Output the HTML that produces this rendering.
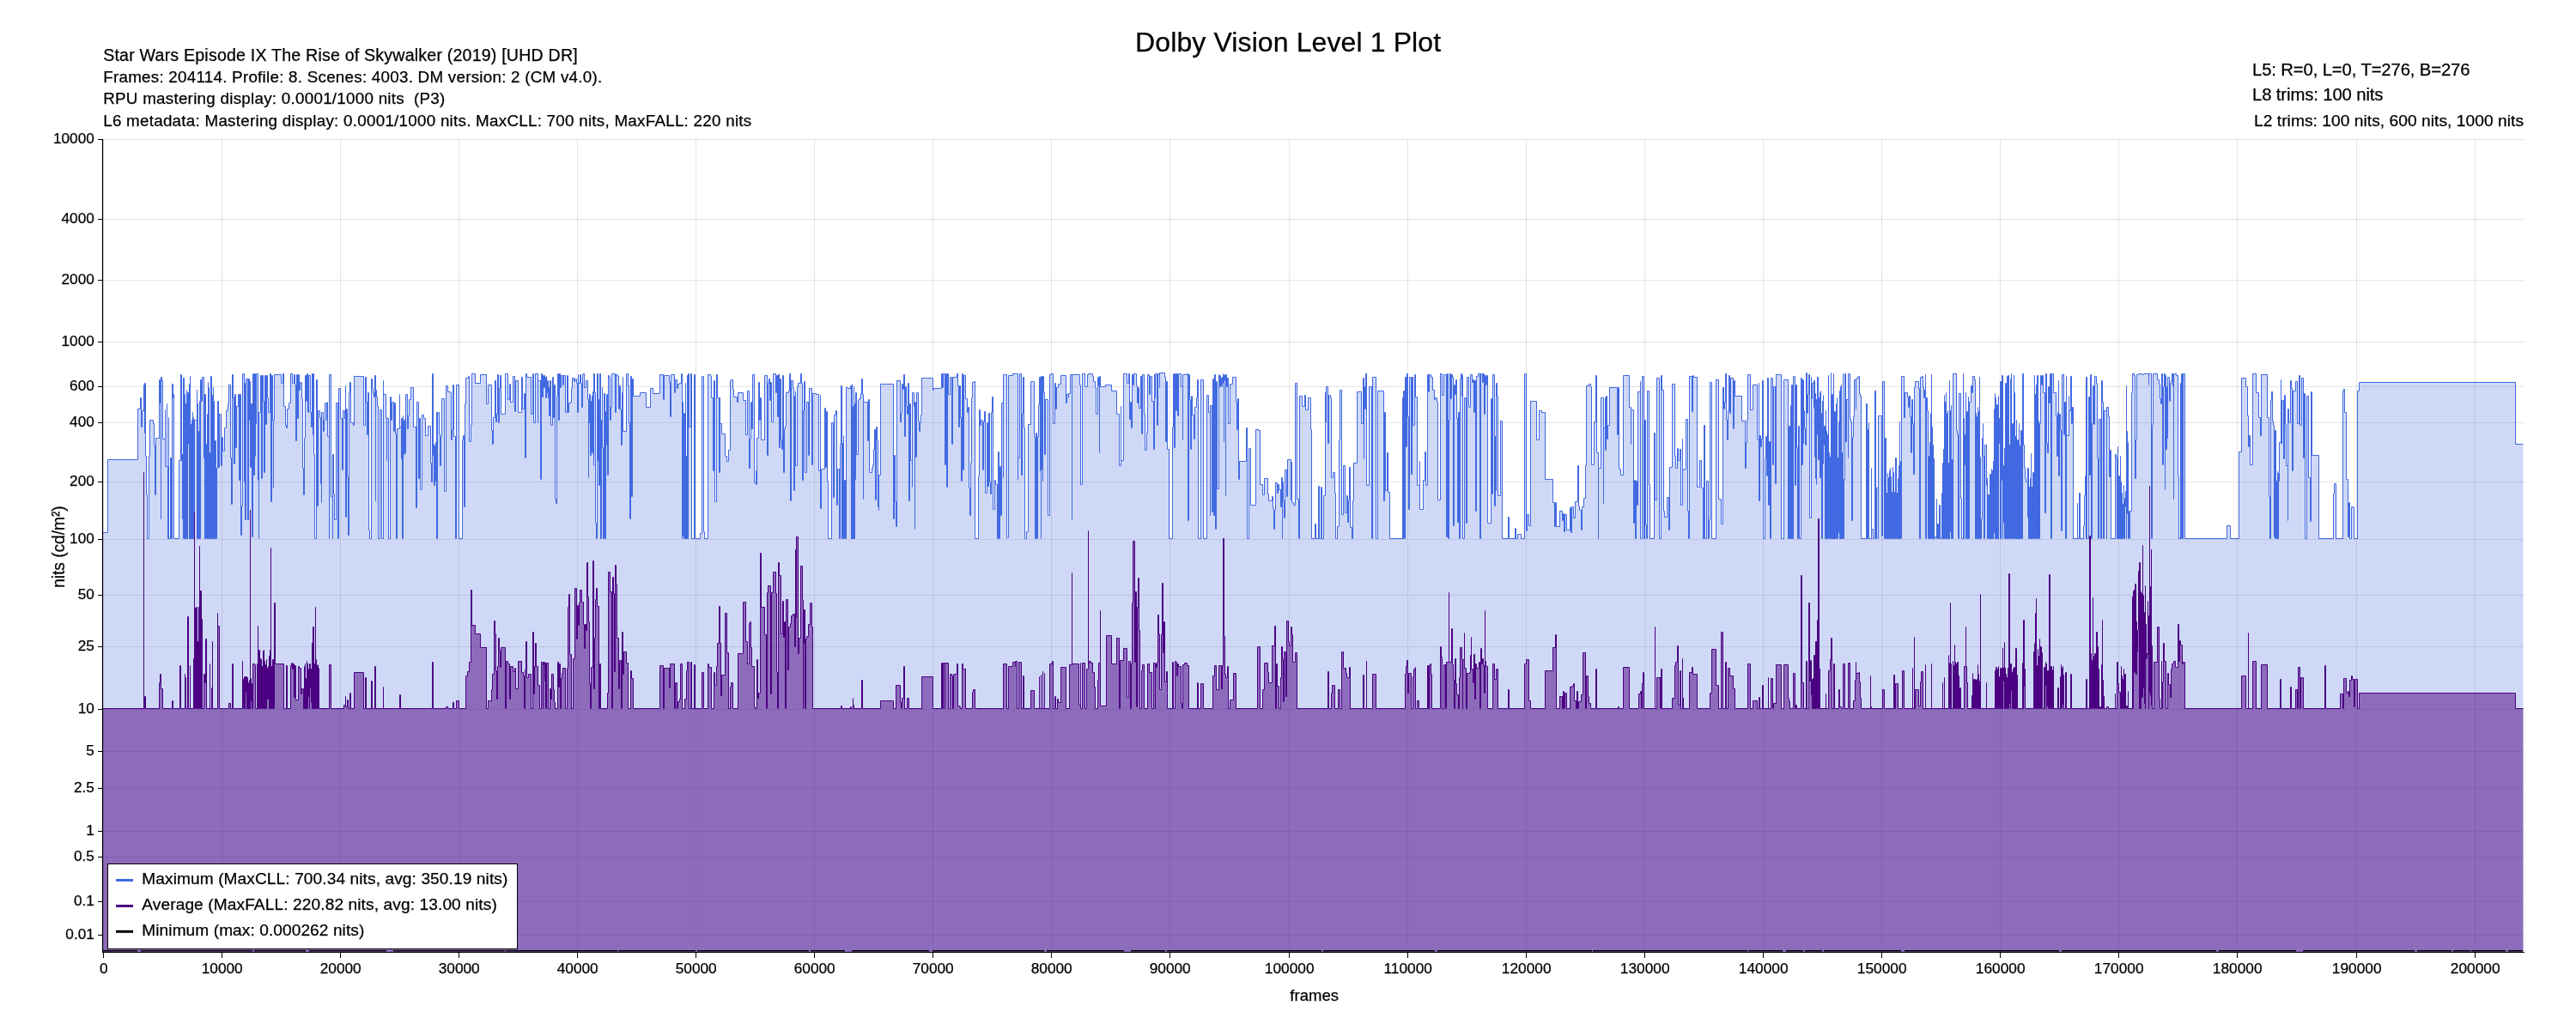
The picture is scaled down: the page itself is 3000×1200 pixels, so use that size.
<!DOCTYPE html><html><head><meta charset="utf-8"><title>Dolby Vision Level 1 Plot</title>
<style>html,body{margin:0;padding:0;background:#fff}svg{display:block;will-change:transform}text{font-family:"Liberation Sans",sans-serif;fill:#000;stroke:#000;stroke-width:0.25px}</style></head><body>
<svg width="3000" height="1200" viewBox="0 0 3000 1200">
<rect width="3000" height="1200" fill="#fff"/>
<path d="M120.0 162.5H2940M120.0 255.5H2940M120.0 326.5H2940M120.0 398.5H2940M120.0 450.5H2940M120.0 492.5H2940M120.0 561.5H2940M120.0 628.5H2940M120.0 693.5H2940M120.0 753.5H2940M120.0 826.5H2940M120.0 875.5H2940M120.0 918.5H2940M120.0 968.5H2940M120.0 998.5H2940M120.0 1050.5H2940M120.0 1089.5H2940M120.5 162V1109M258.5 162V1109M396.5 162V1109M534.5 162V1109M672.5 162V1109M810.5 162V1109M948.5 162V1109M1086.5 162V1109M1224.5 162V1109M1362.5 162V1109M1501.5 162V1109M1639.5 162V1109M1777.5 162V1109M1915.5 162V1109M2053.5 162V1109M2191.5 162V1109M2329.5 162V1109M2467.5 162V1109M2605.5 162V1109M2744.5 162V1109M2882.5 162V1109" stroke="#000" stroke-opacity="0.1" stroke-width="1" fill="none"/>
<path d="M119.5 620.5H125.5V535.5H160.5V476.5H163.5V463.5H164.5V497.5H165.5V478.5H167.5V448.5H168.5V504.5V446.5H169.5V531.5H170.5V576.5H171.5V627.5H173.5V531.5H174.5V489.5H178.5V493.5H179.5V518.5H180.5V576.5H181.5V518.5V510.5H185.5V442.5H186.5V469.5H187.5V604.5V439.5H188.5V443.5H189.5V511.5H192.5V477.5V543.5H194.5V470.5V543.5H195.5V627.5H196.5V486.5V627.5H198.5V533.5H199.5V627.5H200.5V447.5H201.5V463.5H202.5V459.5V627.5H208.5V536.5H210.5V436.5H211.5V536.5H212.5V604.5V529.5H213.5V627.5V440.5H214.5V627.5V487.5V627.5H215.5V459.5V627.5V470.5H216.5V627.5V496.5H217.5V627.5V454.5V627.5H218.5V476.5V594.5V457.5H219.5V517.5V467.5H220.5V627.5V447.5V627.5H221.5V438.5V627.5H222.5V494.5V627.5V502.5V627.5H223.5V489.5V627.5H224.5V480.5V627.5V500.5H225.5V562.5V486.5V627.5H226.5V489.5H229.5V454.5V627.5V502.5H230.5V627.5V470.5V627.5H231.5V503.5V627.5V502.5H232.5V627.5V467.5V627.5H233.5V503.5V521.5V442.5H234.5V467.5H235.5V439.5H237.5V533.5H238.5V494.5V627.5V459.5H239.5V627.5V470.5V627.5H240.5V517.5V561.5H241.5V482.5V627.5H242.5V445.5V627.5V461.5H243.5V627.5V451.5V627.5H244.5V527.5V627.5H245.5V449.5V627.5V438.5H246.5V627.5V529.5H247.5V589.5V460.5V627.5H248.5V451.5V627.5V486.5H249.5V627.5V467.5V627.5H250.5V513.5V609.5H251.5V513.5V627.5H252.5V545.5H253.5V467.5H254.5V544.5H255.5V482.5H257.5V542.5H258.5V509.5H259.5V525.5H261.5V498.5H263.5V478.5H265.5V470.5H266.5V448.5H268.5V533.5H269.5V587.5H270.5V436.5H271.5V463.5H272.5V540.5H273.5V459.5H274.5V521.5H275.5V473.5H277.5V459.5H278.5V559.5H279.5V459.5H280.5V623.5H281.5V589.5H282.5V435.5H284.5V561.5H285.5V446.5V605.5H286.5V441.5H288.5V605.5H289.5V441.5H290.5V489.5V444.5H291.5V544.5H292.5V470.5H293.5V625.5H294.5V435.5H295.5V510.5V553.5H296.5V435.5H297.5V531.5V493.5H298.5V435.5H300.5V559.5H301.5V627.5V480.5H303.5V463.5V437.5H304.5V557.5H305.5V437.5H306.5V467.5H307.5V550.5H308.5V437.5H309.5V494.5H310.5V437.5H311.5V463.5H312.5V480.5H314.5V435.5H315.5V584.5H316.5V437.5H317.5V489.5H318.5V568.5V489.5H319.5V436.5H327.5V446.5H329.5V435.5H330.5V473.5H332.5V495.5H333.5V498.5H334.5V476.5H336.5V469.5H338.5V452.5V435.5H340.5V446.5H342.5V436.5H343.5V448.5H344.5V513.5H345.5V436.5H346.5V487.5H347.5V436.5H348.5V454.5H349.5V445.5H351.5V464.5H352.5V545.5H353.5V576.5H354.5V510.5H355.5V437.5H356.5V467.5H357.5V435.5H358.5V480.5H359.5V437.5H361.5V480.5H362.5V497.5H363.5V435.5H364.5V506.5H365.5V435.5V529.5H366.5V627.5H368.5V442.5H369.5V589.5H370.5V478.5H372.5V486.5H373.5V563.5H374.5V585.5V480.5H376.5V502.5H377.5V489.5H378.5V469.5H380.5V489.5H381.5V468.5V508.5H383.5V627.5V436.5H385.5V578.5H387.5V627.5V529.5H388.5V575.5H389.5V605.5H391.5V469.5H393.5V627.5H394.5V452.5H396.5V487.5H398.5V547.5H399.5V478.5H401.5V487.5H402.5V449.5V602.5H403.5V476.5H404.5V555.5H405.5V623.5H406.5V457.5H407.5V445.5H408.5V492.5H411.5V495.5H412.5V438.5H423.5V495.5H425.5V439.5H426.5V468.5H427.5V506.5H428.5V457.5H429.5V617.5H430.5V627.5H432.5V441.5H433.5V452.5H434.5V457.5H435.5V462.5H436.5V437.5H437.5V583.5V454.5H438.5V462.5H439.5V473.5H440.5V486.5V627.5H442.5V477.5H444.5V627.5H446.5V443.5V459.5H449.5V486.5H450.5V536.5V487.5H452.5V627.5H454.5V462.5H455.5V489.5H456.5V468.5H458.5V502.5H459.5V469.5H460.5V505.5H461.5V627.5H462.5V499.5H465.5V459.5V497.5H467.5V534.5V487.5H468.5V534.5V496.5V627.5H469.5V507.5V484.5V534.5V506.5H470.5V490.5V529.5H471.5V488.5H472.5V527.5V459.5H474.5V499.5H475.5V484.5H476.5V465.5H478.5V451.5H481.5V497.5H484.5V591.5H485.5V468.5H487.5V557.5H488.5V487.5H489.5V570.5H491.5V483.5H493.5V487.5H495.5V507.5H498.5V496.5H501.5V539.5H502.5V561.5H503.5V435.5H504.5V530.5V517.5H505.5V565.5V519.5H506.5V565.5V524.5V536.5H507.5V515.5V560.5H508.5V480.5V627.5H509.5V480.5H511.5V505.5H512.5V542.5H513.5V508.5H514.5V464.5H517.5V572.5H519.5V449.5H521.5V456.5H524.5V457.5H525.5V512.5H526.5V500.5H527.5V448.5H528.5V508.5H530.5V627.5H531.5V448.5H534.5V627.5H538.5V512.5H539.5V507.5H540.5V590.5H541.5V470.5H542.5V440.5H545.5V438.5H546.5V514.5H548.5V495.5H549.5V435.5H553.5V446.5H559.5V436.5H566.5V470.5H568.5V448.5H572.5V501.5H573.5V517.5H574.5V486.5H576.5V480.5V443.5H577.5V491.5H578.5V482.5H579.5V436.5H580.5V492.5H581.5V452.5H582.5V437.5H583.5V482.5H588.5V435.5H591.5V465.5H593.5V447.5H594.5V468.5H597.5V438.5H599.5V479.5H600.5V443.5H603.5V480.5H607.5V439.5H608.5V476.5H610.5V458.5H611.5V533.5H612.5V435.5H613.5V439.5H618.5V482.5H620.5V435.5H621.5V492.5H623.5V435.5H626.5V492.5V443.5H629.5V558.5H630.5V435.5H631.5V439.5V462.5H632.5V437.5V451.5H633.5V437.5H634.5V451.5V439.5H635.5V463.5H636.5V438.5V457.5H637.5V443.5H638.5V463.5V451.5H639.5V484.5H640.5V443.5H641.5V495.5H643.5V439.5H644.5V486.5H645.5V448.5H646.5V581.5H647.5V586.5H648.5V461.5H649.5V435.5H650.5V489.5H651.5V435.5H652.5V451.5H653.5V437.5H655.5V448.5H656.5V437.5H658.5V480.5H660.5V437.5H661.5V480.5H662.5V469.5H664.5V468.5H665.5V452.5H666.5V440.5H668.5V444.5H669.5V441.5H671.5V446.5H672.5V480.5H673.5V436.5V446.5H675.5V436.5H676.5V446.5H677.5V474.5H678.5V436.5H679.5V435.5H680.5V451.5H682.5V443.5H684.5V465.5H685.5V556.5V481.5H686.5V459.5V492.5V459.5H687.5V506.5V467.5V530.5H688.5V467.5V520.5H689.5V461.5V526.5V464.5H690.5V528.5V456.5H691.5V542.5V435.5H692.5V457.5H693.5V609.5H694.5V627.5H695.5V435.5H696.5V536.5V465.5H697.5V565.5H698.5V435.5H699.5V510.5V627.5H700.5V489.5H701.5V451.5V521.5H702.5V627.5H703.5V506.5V458.5H704.5V516.5V627.5H705.5V479.5H706.5V518.5V459.5H707.5V553.5H708.5V437.5H709.5V439.5H710.5V489.5H711.5V474.5H712.5V435.5H716.5V480.5H717.5V436.5H719.5V438.5H720.5V476.5H721.5V449.5H722.5V477.5H723.5V518.5H724.5V457.5H725.5V439.5V502.5H729.5V435.5H731.5V449.5H732.5V492.5H733.5V604.5H734.5V438.5H735.5V578.5H736.5V441.5H737.5V461.5H745.5V457.5H752.5V474.5H757.5V452.5H760.5V458.5H768.5V436.5H772.5V465.5H773.5V437.5H779.5V445.5H780.5V485.5H781.5V436.5H785.5V457.5H786.5V442.5H788.5V452.5H789.5V447.5H791.5V446.5H793.5V435.5H794.5V500.5V627.5V480.5H795.5V624.5V487.5V468.5V565.5H796.5V627.5V510.5V610.5V481.5H797.5V627.5V540.5V513.5H798.5V627.5V446.5V484.5V627.5H799.5V531.5V627.5H800.5V437.5V516.5V627.5H801.5V469.5V627.5V435.5H802.5V497.5H804.5V435.5H805.5V627.5H808.5V436.5H809.5V627.5H815.5V621.5H817.5V438.5H819.5V619.5H820.5V627.5H824.5V436.5H827.5V438.5H828.5V463.5H830.5V548.5H831.5V443.5H832.5V584.5H834.5V436.5H835.5V463.5H837.5V550.5H838.5V463.5V493.5H840.5V505.5H844.5V531.5H846.5V537.5H848.5V524.5H850.5V443.5H851.5V442.5H853.5V453.5H854.5V462.5H858.5V468.5H859.5V457.5H865.5V466.5H868.5V506.5H870.5V455.5H872.5V545.5H873.5V511.5H874.5V468.5H875.5V499.5H876.5V436.5H878.5V562.5H880.5V548.5V564.5H881.5V510.5H883.5V445.5H884.5V489.5H885.5V463.5H886.5V512.5H890.5V437.5H893.5V530.5H894.5V446.5H895.5V441.5H896.5V466.5H897.5V445.5H898.5V491.5H900.5V435.5H903.5V457.5H904.5V437.5H905.5V485.5H906.5V436.5H907.5V521.5H908.5V441.5H909.5V512.5H910.5V523.5H911.5V437.5H912.5V550.5H913.5V499.5H914.5V496.5H915.5V457.5H918.5V455.5H919.5V435.5H920.5V458.5V583.5H921.5V443.5H923.5V452.5H924.5V571.5H925.5V461.5H926.5V456.5V542.5H928.5V450.5H929.5V446.5H932.5V435.5H933.5V446.5H934.5V559.5H935.5V478.5H936.5V444.5H937.5V550.5H939.5V468.5H941.5V530.5H942.5V452.5H945.5V541.5H946.5V458.5H950.5V459.5H953.5V460.5V548.5H955.5V460.5V592.5H956.5V546.5H960.5V475.5H961.5V544.5H962.5V479.5H963.5V560.5H964.5V627.5H968.5V492.5H970.5V579.5H971.5V483.5H973.5V478.5H974.5V588.5H975.5V546.5H977.5V627.5H978.5V517.5H979.5V449.5H980.5V627.5V533.5H981.5V627.5V542.5V516.5H982.5V614.5V532.5V507.5V627.5V572.5H983.5V627.5V559.5H984.5V627.5H985.5V451.5H987.5V452.5H990.5V449.5H991.5V627.5V483.5V627.5V540.5H992.5V627.5V463.5V447.5V627.5H993.5V473.5V627.5H994.5V450.5V466.5V627.5V470.5H995.5V627.5V558.5H996.5V457.5H997.5V529.5H999.5V466.5H1000.5V464.5H1002.5V458.5H1003.5V441.5H1004.5V459.5H1005.5V581.5V468.5H1010.5V513.5H1011.5V465.5H1012.5V550.5H1015.5V545.5H1016.5V541.5H1017.5V523.5H1018.5V500.5H1019.5V582.5H1020.5V497.5H1021.5V512.5H1022.5V590.5H1023.5V594.5V553.5H1025.5V447.5H1040.5V604.5H1041.5V530.5H1042.5V584.5H1043.5V613.5H1044.5V443.5H1048.5V491.5H1049.5V481.5H1050.5V447.5H1051.5V453.5H1052.5V436.5H1053.5V508.5H1054.5V450.5H1055.5V473.5H1056.5V482.5H1057.5V446.5H1058.5V583.5H1059.5V470.5H1060.5V536.5H1062.5V567.5V457.5H1064.5V473.5H1065.5V616.5V468.5H1066.5V532.5H1067.5V457.5H1069.5V490.5H1070.5V502.5H1071.5V492.5H1072.5V483.5H1073.5V440.5H1086.5V454.5H1087.5V452.5H1096.5V435.5H1097.5V451.5H1098.5V435.5H1100.5V541.5H1101.5V435.5H1102.5V567.5H1103.5V435.5H1104.5V459.5H1106.5V439.5H1108.5V517.5H1109.5V439.5H1114.5V435.5H1115.5V449.5H1116.5V497.5H1117.5V449.5H1118.5V486.5H1119.5V560.5H1120.5V435.5H1121.5V547.5H1122.5V437.5H1124.5V464.5H1126.5V480.5H1127.5V474.5H1128.5V568.5H1129.5V600.5H1130.5V539.5H1131.5V463.5H1132.5V445.5H1134.5V444.5H1135.5V627.5H1139.5V554.5H1140.5V477.5H1141.5V495.5H1142.5V489.5H1144.5V547.5H1145.5V491.5H1146.5V479.5H1147.5V574.5H1149.5V492.5H1150.5V566.5H1151.5V481.5H1152.5V561.5H1153.5V575.5H1154.5V480.5H1155.5V462.5H1156.5V593.5H1158.5V559.5H1159.5V564.5H1161.5V627.5H1162.5V526.5H1163.5V627.5H1164.5V543.5H1165.5V600.5H1166.5V469.5H1168.5V556.5V436.5H1172.5V626.5H1174.5V437.5H1179.5V435.5H1185.5V559.5V533.5H1187.5V435.5H1189.5V553.5H1190.5V482.5H1191.5V439.5H1192.5V498.5H1193.5V627.5H1195.5V619.5H1197.5V494.5H1200.5V444.5H1204.5V509.5H1205.5V627.5H1206.5V504.5H1207.5V627.5H1208.5V508.5H1209.5V471.5H1210.5V439.5H1211.5V548.5H1212.5V627.5V438.5H1213.5V546.5H1214.5V560.5V438.5H1215.5V457.5H1216.5V529.5H1217.5V465.5H1220.5V600.5H1222.5V436.5H1224.5V435.5H1226.5V493.5H1228.5V446.5H1229.5V476.5H1230.5V451.5H1232.5V447.5H1235.5V437.5H1241.5V469.5H1242.5V459.5H1244.5V463.5V458.5H1246.5V436.5H1248.5V605.5V436.5H1257.5V448.5H1258.5V564.5H1260.5V435.5H1263.5V450.5H1266.5V436.5H1267.5V435.5H1272.5V438.5H1273.5V444.5H1275.5V451.5H1276.5V482.5H1278.5V439.5H1279.5V449.5H1280.5V527.5V438.5H1281.5V450.5H1287.5V448.5H1294.5V455.5H1300.5V482.5H1303.5V542.5H1305.5V473.5V536.5H1308.5V435.5H1312.5V446.5H1314.5V435.5H1315.5V488.5H1316.5V468.5H1317.5V498.5H1318.5V436.5H1319.5V448.5H1320.5V435.5H1323.5V449.5H1324.5V469.5H1325.5V451.5H1326.5V475.5H1328.5V438.5H1329.5V505.5H1330.5V436.5H1332.5V482.5H1333.5V524.5H1335.5V504.5H1336.5V436.5H1338.5V459.5H1339.5V438.5H1341.5V467.5H1343.5V523.5H1344.5V436.5H1345.5V463.5V435.5H1347.5V495.5H1348.5V435.5H1350.5V451.5V434.5H1356.5V439.5H1357.5V514.5H1358.5V444.5H1359.5V523.5H1361.5V627.5H1365.5V497.5H1366.5V435.5H1367.5V521.5H1368.5V435.5H1369.5V478.5H1370.5V435.5H1371.5V484.5H1372.5V435.5H1375.5V450.5H1377.5V512.5V436.5H1382.5V435.5H1383.5V606.5H1384.5V436.5H1385.5V465.5H1386.5V523.5H1387.5V461.5H1388.5V483.5H1390.5V511.5H1391.5V474.5H1393.5V463.5H1394.5V442.5H1395.5V627.5H1398.5V442.5H1401.5V627.5H1405.5V460.5H1407.5V480.5H1409.5V600.5V472.5H1411.5V596.5H1412.5V441.5H1413.5V600.5H1414.5V436.5H1415.5V616.5H1416.5V444.5H1417.5V569.5H1419.5V436.5V437.5H1420.5V450.5H1421.5V437.5V449.5H1422.5V440.5H1423.5V450.5V439.5H1424.5V446.5V435.5V437.5H1425.5V514.5V437.5V443.5H1426.5V436.5H1427.5V437.5V444.5V577.5V436.5H1428.5V437.5V450.5H1429.5V440.5H1430.5V444.5V493.5H1432.5V447.5H1435.5V439.5H1439.5V468.5H1440.5V500.5H1441.5V464.5H1442.5V558.5H1443.5V537.5H1451.5V498.5H1452.5V627.5H1454.5V522.5H1456.5V588.5H1462.5V500.5H1465.5V501.5H1467.5V564.5H1470.5V576.5H1472.5V557.5H1476.5V575.5H1477.5V583.5H1481.5V578.5H1482.5V592.5H1483.5V616.5H1484.5V594.5H1485.5V562.5H1487.5V574.5H1488.5V564.5H1489.5V570.5H1491.5V590.5H1492.5V556.5H1493.5V627.5V561.5H1494.5V583.5H1495.5V603.5H1496.5V547.5H1498.5V578.5H1499.5V535.5H1503.5V582.5V538.5H1504.5V585.5H1506.5V588.5H1508.5V446.5H1510.5V581.5H1512.5V627.5H1513.5V461.5H1516.5V473.5H1519.5V460.5H1520.5V477.5H1523.5V463.5H1526.5V500.5H1527.5V627.5H1531.5V610.5H1532.5V627.5H1535.5V566.5H1536.5V627.5H1538.5V567.5H1539.5V627.5H1541.5V577.5H1543.5V457.5H1544.5V491.5V450.5H1546.5V516.5H1547.5V460.5H1549.5V463.5H1550.5V556.5H1552.5V550.5H1554.5V574.5H1555.5V627.5H1557.5V613.5H1559.5V512.5H1560.5V454.5H1562.5V599.5H1564.5V542.5H1566.5V597.5H1568.5V577.5H1569.5V608.5H1570.5V583.5H1571.5V544.5H1572.5V614.5H1574.5V627.5H1575.5V583.5H1576.5V539.5H1580.5V456.5H1585.5V493.5H1587.5V440.5H1588.5V534.5V450.5H1589.5V476.5H1590.5V435.5H1591.5V565.5H1594.5V450.5H1597.5V627.5H1598.5V439.5H1602.5V627.5H1604.5V455.5H1611.5V583.5H1612.5V480.5H1613.5V571.5H1615.5V527.5H1616.5V573.5H1618.5V627.5H1633.5V463.5V627.5H1634.5V455.5H1635.5V627.5H1636.5V439.5H1637.5V520.5H1638.5V435.5H1639.5V485.5H1640.5V593.5H1641.5V439.5H1643.5V552.5H1644.5V439.5H1645.5V495.5H1647.5V436.5H1648.5V462.5H1650.5V480.5V565.5H1653.5V537.5V593.5H1657.5V559.5H1659.5V526.5H1660.5V565.5H1662.5V436.5H1663.5V456.5H1664.5V436.5H1666.5V439.5H1668.5V454.5H1670.5V465.5H1671.5V463.5H1673.5V468.5H1674.5V582.5H1677.5V435.5H1679.5V460.5H1681.5V436.5H1684.5V625.5H1685.5V435.5H1686.5V627.5H1687.5V489.5H1688.5V435.5H1689.5V464.5H1690.5V436.5H1691.5V439.5H1692.5V612.5H1693.5V448.5H1694.5V459.5H1695.5V442.5H1696.5V487.5H1697.5V608.5H1698.5V480.5H1699.5V627.5H1700.5V441.5H1701.5V435.5H1702.5V461.5H1703.5V437.5V627.5H1705.5V463.5H1707.5V609.5H1708.5V439.5H1710.5V474.5H1712.5V436.5H1714.5V445.5H1715.5V442.5H1716.5V480.5H1717.5V443.5H1718.5V595.5H1719.5V438.5H1721.5V435.5H1723.5V627.5H1724.5V435.5H1726.5V445.5H1727.5V435.5H1728.5V482.5H1729.5V437.5H1730.5V448.5H1731.5V437.5H1732.5V609.5H1736.5V464.5H1737.5V575.5H1738.5V436.5H1740.5V589.5H1741.5V508.5V571.5H1742.5V446.5H1743.5V461.5H1744.5V577.5H1747.5V490.5H1749.5V627.5H1756.5V602.5H1757.5V627.5H1764.5V615.5H1765.5V627.5H1767.5V622.5H1771.5V627.5H1775.5V435.5H1777.5V618.5H1778.5V599.5H1780.5V612.5H1782.5V467.5H1789.5V512.5H1792.5V478.5H1795.5V480.5H1799.5V558.5H1808.5V585.5H1810.5V613.5H1811.5V585.5H1812.5V613.5H1816.5V595.5H1819.5V606.5H1820.5V598.5H1821.5V619.5H1822.5V599.5H1824.5V617.5H1828.5V591.5H1829.5V620.5H1830.5V590.5H1832.5V603.5H1834.5V584.5H1837.5V542.5H1838.5V589.5H1839.5V594.5H1841.5V617.5H1842.5V590.5H1844.5V580.5H1846.5V542.5H1847.5V449.5H1850.5V447.5H1852.5V450.5H1853.5V536.5V541.5H1856.5V491.5H1858.5V437.5H1859.5V527.5H1861.5V627.5V545.5H1864.5V463.5H1867.5V586.5V498.5H1869.5V463.5V524.5H1870.5V461.5H1871.5V511.5H1872.5V495.5H1874.5V451.5H1883.5V506.5H1884.5V451.5H1885.5V546.5H1887.5V553.5H1890.5V437.5H1897.5V474.5H1899.5V517.5V477.5H1902.5V609.5H1903.5V559.5H1904.5V627.5H1905.5V560.5H1906.5V588.5H1907.5V456.5H1910.5V444.5V627.5H1912.5V493.5V438.5H1914.5V627.5H1915.5V489.5H1916.5V611.5H1917.5V627.5H1918.5V455.5H1920.5V564.5H1921.5V627.5H1926.5V504.5H1927.5V582.5H1929.5V440.5H1932.5V627.5H1934.5V437.5H1935.5V454.5H1937.5V595.5H1938.5V602.5H1941.5V579.5H1943.5V617.5H1944.5V544.5H1947.5V447.5H1950.5V531.5H1951.5V545.5H1953.5V522.5H1954.5V536.5H1956.5V523.5H1957.5V588.5H1959.5V511.5V547.5H1961.5V546.5H1963.5V488.5H1965.5V595.5H1966.5V627.5H1967.5V438.5H1970.5V479.5H1971.5V437.5H1972.5V439.5H1976.5V567.5H1979.5V536.5H1981.5V568.5H1983.5V627.5H1984.5V495.5H1985.5V627.5H1987.5V560.5H1989.5V627.5H1990.5V605.5H1991.5V445.5H1993.5V627.5H1998.5V442.5H2001.5V581.5H2004.5V610.5H2006.5V451.5H2007.5V476.5H2008.5V468.5H2009.5V435.5H2010.5V489.5H2011.5V512.5H2012.5V478.5H2013.5V437.5H2014.5V481.5H2015.5V440.5H2018.5V499.5H2019.5V443.5H2020.5V461.5H2028.5V490.5H2032.5V545.5H2033.5V515.5H2034.5V488.5H2035.5V436.5H2038.5V477.5H2041.5V448.5H2046.5V512.5H2048.5V446.5V583.5H2049.5V507.5H2050.5V520.5H2051.5V511.5H2052.5V443.5H2053.5V627.5H2055.5V533.5H2056.5V508.5H2057.5V554.5H2058.5V440.5H2059.5V588.5H2060.5V514.5H2061.5V627.5H2062.5V440.5H2064.5V541.5H2065.5V450.5H2067.5V563.5H2068.5V436.5H2074.5V627.5H2077.5V442.5H2082.5V446.5V484.5V627.5H2083.5V496.5V627.5H2084.5V496.5V627.5H2085.5V472.5V627.5V486.5H2086.5V627.5V448.5H2087.5V627.5V469.5V627.5H2088.5V438.5H2090.5V565.5H2091.5V448.5H2092.5V521.5H2093.5V627.5H2094.5V541.5V496.5H2095.5V627.5H2097.5V440.5H2098.5V541.5H2099.5V442.5H2100.5V516.5V478.5H2101.5V499.5H2102.5V518.5H2103.5V434.5H2104.5V481.5H2105.5V459.5H2106.5V436.5H2107.5V603.5H2109.5V439.5V464.5H2110.5V446.5H2112.5V474.5V443.5H2113.5V471.5V532.5H2114.5V458.5V557.5H2115.5V471.5V564.5V465.5H2116.5V506.5V439.5H2117.5V517.5V442.5V535.5H2118.5V463.5H2119.5V546.5V457.5V556.5H2120.5V455.5V481.5H2121.5V627.5V496.5H2122.5V627.5V493.5V467.5H2123.5V538.5V540.5V460.5V518.5H2124.5V509.5V496.5H2125.5V627.5V539.5V610.5H2126.5V627.5V478.5V479.5V627.5H2127.5V502.5V537.5V627.5H2128.5V506.5H2129.5V627.5V517.5V501.5V437.5V531.5H2130.5V527.5V627.5H2131.5V532.5V627.5H2132.5V476.5V434.5V570.5H2133.5V459.5V627.5H2134.5V459.5V499.5V627.5H2135.5V435.5V482.5V627.5H2136.5V522.5V627.5V479.5H2137.5V531.5V627.5V527.5H2138.5V470.5V605.5V627.5H2139.5V463.5V501.5V627.5H2140.5V533.5V605.5H2141.5V609.5V503.5V491.5V620.5H2142.5V496.5V455.5V627.5H2143.5V450.5V540.5V627.5H2144.5V487.5V448.5V627.5V504.5V527.5H2145.5V627.5H2146.5V435.5V627.5H2147.5V558.5H2148.5V435.5H2149.5V514.5H2150.5V465.5H2152.5V533.5V435.5H2154.5V488.5H2155.5V491.5H2156.5V606.5H2157.5V509.5H2158.5V485.5H2159.5V442.5H2161.5V476.5V441.5H2163.5V439.5H2164.5V438.5H2165.5V458.5H2166.5V461.5H2167.5V594.5V627.5H2173.5V470.5H2174.5V627.5H2175.5V500.5H2176.5V492.5V627.5H2179.5V545.5V616.5H2181.5V627.5H2183.5V455.5H2184.5V627.5H2185.5V568.5H2187.5V627.5V484.5H2191.5V624.5H2192.5V444.5H2194.5V627.5H2195.5V510.5H2196.5V544.5V627.5H2197.5V574.5V627.5H2198.5V551.5V627.5V592.5H2199.5V627.5V556.5V627.5H2200.5V548.5V627.5V599.5H2201.5V545.5V573.5V627.5H2202.5V555.5V627.5V573.5H2203.5V617.5V627.5H2204.5V544.5V627.5V546.5V550.5H2205.5V627.5H2206.5V577.5V627.5V593.5V573.5H2207.5V627.5V533.5H2208.5V577.5V627.5V574.5H2209.5V627.5H2210.5V557.5V571.5V627.5H2211.5V542.5V627.5V574.5V556.5H2212.5V627.5V491.5V537.5H2213.5V627.5V602.5V566.5H2214.5V627.5V567.5V438.5H2217.5V486.5H2218.5V457.5H2221.5V462.5H2222.5V474.5H2223.5V461.5H2224.5V485.5H2225.5V527.5H2226.5V465.5H2227.5V493.5H2228.5V552.5H2229.5V515.5V451.5H2230.5V444.5H2234.5V452.5H2235.5V627.5H2236.5V507.5V439.5H2238.5V438.5H2239.5V451.5H2240.5V463.5H2241.5V454.5H2242.5V436.5V627.5H2243.5V463.5H2244.5V478.5H2245.5V521.5V627.5V555.5H2246.5V627.5V531.5H2247.5V627.5V515.5V627.5H2248.5V481.5V627.5H2249.5V436.5V510.5V497.5H2250.5V627.5V529.5V627.5H2251.5V518.5V627.5H2252.5V534.5V627.5H2253.5V625.5H2255.5V581.5V627.5H2256.5V610.5H2257.5V627.5H2258.5V588.5H2259.5V627.5H2261.5V574.5H2262.5V627.5V539.5H2263.5V627.5V523.5H2264.5V627.5V460.5V627.5H2265.5V468.5V565.5H2266.5V457.5V627.5V481.5H2267.5V627.5V536.5H2268.5V627.5V478.5V627.5H2269.5V539.5V627.5H2270.5V443.5V627.5V478.5H2271.5V613.5V514.5V619.5H2272.5V472.5V627.5H2273.5V535.5V627.5H2274.5V482.5V435.5H2278.5V501.5H2279.5V506.5H2280.5V627.5H2281.5V458.5H2283.5V460.5V580.5H2284.5V627.5H2286.5V435.5V487.5H2287.5V578.5V627.5V506.5H2288.5V528.5V541.5H2289.5V457.5V627.5V548.5V490.5H2290.5V627.5V479.5H2291.5V627.5V580.5V487.5H2292.5V627.5V462.5V494.5H2293.5V627.5V468.5H2295.5V449.5H2296.5V457.5H2297.5V438.5H2299.5V442.5H2300.5V627.5V481.5H2301.5V627.5V485.5H2302.5V627.5V532.5V627.5H2303.5V474.5V506.5H2304.5V479.5V627.5V516.5H2305.5V627.5V439.5V627.5H2306.5V532.5V627.5H2307.5V604.5H2308.5V510.5H2309.5V493.5V531.5H2310.5V627.5H2311.5V518.5H2313.5V565.5H2314.5V627.5V557.5V627.5V582.5H2315.5V627.5V576.5H2316.5V627.5V577.5V627.5H2317.5V566.5V627.5V552.5H2318.5V627.5V575.5H2319.5V627.5V546.5V627.5H2320.5V548.5V627.5H2321.5V537.5V627.5V552.5H2322.5V620.5V476.5H2323.5V627.5V458.5V627.5H2324.5V463.5V627.5H2325.5V530.5V627.5V471.5H2326.5V627.5V541.5V627.5H2327.5V461.5V627.5V506.5H2328.5V516.5V487.5H2329.5V627.5V444.5H2330.5V627.5V500.5H2331.5V559.5V437.5H2332.5V501.5V627.5V546.5H2333.5V542.5V608.5V557.5H2334.5V522.5V627.5H2335.5V490.5V627.5V535.5V446.5H2336.5V627.5H2337.5V542.5V438.5V627.5H2338.5V619.5V567.5V560.5V437.5H2339.5V564.5V627.5V518.5H2340.5V533.5V602.5V627.5H2341.5V508.5V627.5V441.5H2342.5V553.5V435.5V627.5H2343.5V534.5V493.5H2344.5V550.5V627.5V505.5V627.5H2345.5V437.5V531.5H2346.5V627.5V457.5V508.5H2347.5V627.5V538.5V627.5H2348.5V489.5V627.5H2349.5V540.5V627.5V512.5H2350.5V627.5V549.5V627.5H2351.5V493.5V627.5H2352.5V519.5V627.5V537.5H2353.5V627.5V501.5H2354.5V627.5V520.5V627.5H2355.5V512.5V435.5H2356.5V518.5H2357.5V544.5H2358.5V557.5H2359.5V561.5H2361.5V602.5V545.5H2362.5V627.5V573.5V578.5H2363.5V573.5V627.5V567.5H2364.5V627.5V557.5V627.5H2365.5V586.5V528.5V627.5V595.5V567.5H2366.5V627.5V588.5H2367.5V627.5V550.5H2368.5V626.5V566.5V627.5H2369.5V437.5V459.5V627.5V459.5H2370.5V627.5V469.5H2371.5V448.5V627.5V606.5V503.5H2372.5V627.5V505.5V437.5H2373.5V627.5V617.5V490.5H2374.5V627.5V512.5H2375.5V627.5V493.5H2376.5V437.5H2377.5V448.5H2378.5V437.5H2379.5V457.5H2381.5V597.5H2382.5V435.5H2383.5V516.5H2384.5V527.5H2385.5V450.5H2386.5V469.5H2387.5V435.5H2388.5V627.5H2389.5V435.5H2391.5V457.5H2394.5V460.5V484.5H2395.5V531.5H2396.5V480.5H2397.5V443.5V554.5H2398.5V482.5H2399.5V501.5H2400.5V618.5H2401.5V436.5H2403.5V506.5H2404.5V468.5H2405.5V627.5H2406.5V438.5V507.5H2409.5V461.5V478.5H2411.5V438.5H2412.5V493.5H2413.5V474.5H2414.5V627.5H2419.5V586.5V627.5H2421.5V574.5H2422.5V627.5H2426.5V612.5H2427.5V577.5H2428.5V554.5H2429.5V627.5V439.5H2430.5V627.5H2432.5V462.5H2433.5V553.5H2434.5V436.5H2435.5V627.5H2436.5V493.5H2437.5V449.5H2438.5V494.5H2439.5V438.5H2441.5V446.5H2442.5V534.5H2443.5V627.5H2444.5V488.5H2446.5V627.5H2447.5V443.5H2448.5V468.5H2449.5V627.5H2450.5V478.5H2453.5V627.5V474.5H2455.5V485.5H2456.5V555.5H2457.5V524.5H2458.5V534.5V627.5H2463.5V529.5H2464.5V532.5H2465.5V600.5V596.5V627.5H2466.5V589.5V520.5V627.5H2467.5V588.5V627.5V554.5H2468.5V592.5V627.5H2469.5V592.5V531.5V627.5V561.5H2470.5V587.5V584.5V627.5H2471.5V588.5V627.5V574.5V596.5H2472.5V627.5V587.5H2473.5V627.5V565.5V591.5H2474.5V605.5V627.5V580.5H2475.5V590.5V572.5H2476.5V449.5V627.5V568.5H2477.5V598.5V502.5V581.5H2478.5V515.5V627.5V565.5V575.5V595.5H2479.5V627.5H2480.5V595.5H2482.5V457.5H2483.5V435.5H2485.5V437.5H2486.5V557.5H2487.5V512.5H2488.5V436.5H2490.5V435.5H2494.5V436.5H2496.5V435.5H2502.5V448.5V435.5H2505.5V627.5H2506.5V495.5H2507.5V435.5H2512.5V442.5H2514.5V447.5H2515.5V464.5H2516.5V470.5H2517.5V435.5H2518.5V541.5H2519.5V450.5H2520.5V435.5H2521.5V570.5V437.5H2522.5V523.5H2523.5V450.5H2524.5V510.5V439.5H2526.5V467.5H2527.5V446.5H2528.5V443.5H2529.5V435.5H2530.5V449.5H2531.5V581.5V435.5H2534.5V437.5H2536.5V554.5H2537.5V607.5V627.5H2539.5V446.5V627.5H2540.5V435.5H2541.5V627.5H2542.5V435.5H2544.5V627.5H2593.5V612.5H2597.5V627.5H2607.5V526.5H2610.5V440.5H2615.5V450.5H2617.5V484.5H2618.5V500.5V520.5H2619.5V507.5H2620.5V541.5H2623.5V435.5H2627.5V457.5H2630.5V486.5H2632.5V507.5H2633.5V436.5H2640.5V486.5H2642.5V578.5H2643.5V627.5H2644.5V466.5H2645.5V456.5H2646.5V490.5H2647.5V495.5H2648.5V625.5H2649.5V552.5V627.5V501.5H2650.5V593.5V537.5V627.5H2651.5V560.5V627.5H2652.5V549.5V627.5V551.5H2653.5V627.5V560.5H2654.5V515.5H2656.5V442.5V516.5H2657.5V466.5H2659.5V534.5H2660.5V460.5H2661.5V494.5H2662.5V542.5H2664.5V606.5V476.5H2665.5V492.5H2667.5V443.5H2668.5V452.5H2669.5V548.5H2670.5V455.5H2673.5V444.5H2675.5V493.5H2677.5V437.5H2678.5V495.5H2680.5V440.5H2682.5V533.5H2683.5V458.5H2684.5V627.5H2686.5V461.5H2688.5V556.5H2690.5V559.5V607.5H2691.5V456.5H2692.5V530.5H2700.5V627.5H2717.5V575.5H2718.5V563.5H2720.5V627.5H2728.5V455.5H2729.5V453.5H2730.5V480.5H2732.5V558.5H2734.5V585.5V625.5H2735.5V585.5H2736.5V627.5H2738.5V590.5H2740.5V591.5H2741.5V627.5H2745.5V455.5H2747.5V445.5H2929.5V517.5H2938.5V1109.3H119.6Z" fill="#4169e1" fill-opacity="0.25" stroke="none"/>
<path d="M119.5 620.5H125.5V535.5H160.5V476.5H163.5V463.5H164.5V497.5H165.5V478.5H167.5V448.5H168.5V504.5V446.5H169.5V531.5H170.5V576.5H171.5V627.5H173.5V531.5H174.5V489.5H178.5V493.5H179.5V518.5H180.5V576.5H181.5V518.5V510.5H185.5V442.5H186.5V469.5H187.5V604.5V439.5H188.5V443.5H189.5V511.5H192.5V477.5V543.5H194.5V470.5V543.5H195.5V627.5H196.5V486.5V627.5H198.5V533.5H199.5V627.5H200.5V447.5H201.5V463.5H202.5V459.5V627.5H208.5V536.5H210.5V436.5H211.5V536.5H212.5V604.5V529.5H213.5V627.5V440.5H214.5V627.5V487.5V627.5H215.5V459.5V627.5V470.5H216.5V627.5V496.5H217.5V627.5V454.5V627.5H218.5V476.5V594.5V457.5H219.5V517.5V467.5H220.5V627.5V447.5V627.5H221.5V438.5V627.5H222.5V494.5V627.5V502.5V627.5H223.5V489.5V627.5H224.5V480.5V627.5V500.5H225.5V562.5V486.5V627.5H226.5V489.5H229.5V454.5V627.5V502.5H230.5V627.5V470.5V627.5H231.5V503.5V627.5V502.5H232.5V627.5V467.5V627.5H233.5V503.5V521.5V442.5H234.5V467.5H235.5V439.5H237.5V533.5H238.5V494.5V627.5V459.5H239.5V627.5V470.5V627.5H240.5V517.5V561.5H241.5V482.5V627.5H242.5V445.5V627.5V461.5H243.5V627.5V451.5V627.5H244.5V527.5V627.5H245.5V449.5V627.5V438.5H246.5V627.5V529.5H247.5V589.5V460.5V627.5H248.5V451.5V627.5V486.5H249.5V627.5V467.5V627.5H250.5V513.5V609.5H251.5V513.5V627.5H252.5V545.5H253.5V467.5H254.5V544.5H255.5V482.5H257.5V542.5H258.5V509.5H259.5V525.5H261.5V498.5H263.5V478.5H265.5V470.5H266.5V448.5H268.5V533.5H269.5V587.5H270.5V436.5H271.5V463.5H272.5V540.5H273.5V459.5H274.5V521.5H275.5V473.5H277.5V459.5H278.5V559.5H279.5V459.5H280.5V623.5H281.5V589.5H282.5V435.5H284.5V561.5H285.5V446.5V605.5H286.5V441.5H288.5V605.5H289.5V441.5H290.5V489.5V444.5H291.5V544.5H292.5V470.5H293.5V625.5H294.5V435.5H295.5V510.5V553.5H296.5V435.5H297.5V531.5V493.5H298.5V435.5H300.5V559.5H301.5V627.5V480.5H303.5V463.5V437.5H304.5V557.5H305.5V437.5H306.5V467.5H307.5V550.5H308.5V437.5H309.5V494.5H310.5V437.5H311.5V463.5H312.5V480.5H314.5V435.5H315.5V584.5H316.5V437.5H317.5V489.5H318.5V568.5V489.5H319.5V436.5H327.5V446.5H329.5V435.5H330.5V473.5H332.5V495.5H333.5V498.5H334.5V476.5H336.5V469.5H338.5V452.5V435.5H340.5V446.5H342.5V436.5H343.5V448.5H344.5V513.5H345.5V436.5H346.5V487.5H347.5V436.5H348.5V454.5H349.5V445.5H351.5V464.5H352.5V545.5H353.5V576.5H354.5V510.5H355.5V437.5H356.5V467.5H357.5V435.5H358.5V480.5H359.5V437.5H361.5V480.5H362.5V497.5H363.5V435.5H364.5V506.5H365.5V435.5V529.5H366.5V627.5H368.5V442.5H369.5V589.5H370.5V478.5H372.5V486.5H373.5V563.5H374.5V585.5V480.5H376.5V502.5H377.5V489.5H378.5V469.5H380.5V489.5H381.5V468.5V508.5H383.5V627.5V436.5H385.5V578.5H387.5V627.5V529.5H388.5V575.5H389.5V605.5H391.5V469.5H393.5V627.5H394.5V452.5H396.5V487.5H398.5V547.5H399.5V478.5H401.5V487.5H402.5V449.5V602.5H403.5V476.5H404.5V555.5H405.5V623.5H406.5V457.5H407.5V445.5H408.5V492.5H411.5V495.5H412.5V438.5H423.5V495.5H425.5V439.5H426.5V468.5H427.5V506.5H428.5V457.5H429.5V617.5H430.5V627.5H432.5V441.5H433.5V452.5H434.5V457.5H435.5V462.5H436.5V437.5H437.5V583.5V454.5H438.5V462.5H439.5V473.5H440.5V486.5V627.5H442.5V477.5H444.5V627.5H446.5V443.5V459.5H449.5V486.5H450.5V536.5V487.5H452.5V627.5H454.5V462.5H455.5V489.5H456.5V468.5H458.5V502.5H459.5V469.5H460.5V505.5H461.5V627.5H462.5V499.5H465.5V459.5V497.5H467.5V534.5V487.5H468.5V534.5V496.5V627.5H469.5V507.5V484.5V534.5V506.5H470.5V490.5V529.5H471.5V488.5H472.5V527.5V459.5H474.5V499.5H475.5V484.5H476.5V465.5H478.5V451.5H481.5V497.5H484.5V591.5H485.5V468.5H487.5V557.5H488.5V487.5H489.5V570.5H491.5V483.5H493.5V487.5H495.5V507.5H498.5V496.5H501.5V539.5H502.5V561.5H503.5V435.5H504.5V530.5V517.5H505.5V565.5V519.5H506.5V565.5V524.5V536.5H507.5V515.5V560.5H508.5V480.5V627.5H509.5V480.5H511.5V505.5H512.5V542.5H513.5V508.5H514.5V464.5H517.5V572.5H519.5V449.5H521.5V456.5H524.5V457.5H525.5V512.5H526.5V500.5H527.5V448.5H528.5V508.5H530.5V627.5H531.5V448.5H534.5V627.5H538.5V512.5H539.5V507.5H540.5V590.5H541.5V470.5H542.5V440.5H545.5V438.5H546.5V514.5H548.5V495.5H549.5V435.5H553.5V446.5H559.5V436.5H566.5V470.5H568.5V448.5H572.5V501.5H573.5V517.5H574.5V486.5H576.5V480.5V443.5H577.5V491.5H578.5V482.5H579.5V436.5H580.5V492.5H581.5V452.5H582.5V437.5H583.5V482.5H588.5V435.5H591.5V465.5H593.5V447.5H594.5V468.5H597.5V438.5H599.5V479.5H600.5V443.5H603.5V480.5H607.5V439.5H608.5V476.5H610.5V458.5H611.5V533.5H612.5V435.5H613.5V439.5H618.5V482.5H620.5V435.5H621.5V492.5H623.5V435.5H626.5V492.5V443.5H629.5V558.5H630.5V435.5H631.5V439.5V462.5H632.5V437.5V451.5H633.5V437.5H634.5V451.5V439.5H635.5V463.5H636.5V438.5V457.5H637.5V443.5H638.5V463.5V451.5H639.5V484.5H640.5V443.5H641.5V495.5H643.5V439.5H644.5V486.5H645.5V448.5H646.5V581.5H647.5V586.5H648.5V461.5H649.5V435.5H650.5V489.5H651.5V435.5H652.5V451.5H653.5V437.5H655.5V448.5H656.5V437.5H658.5V480.5H660.5V437.5H661.5V480.5H662.5V469.5H664.5V468.5H665.5V452.5H666.5V440.5H668.5V444.5H669.5V441.5H671.5V446.5H672.5V480.5H673.5V436.5V446.5H675.5V436.5H676.5V446.5H677.5V474.5H678.5V436.5H679.5V435.5H680.5V451.5H682.5V443.5H684.5V465.5H685.5V556.5V481.5H686.5V459.5V492.5V459.5H687.5V506.5V467.5V530.5H688.5V467.5V520.5H689.5V461.5V526.5V464.5H690.5V528.5V456.5H691.5V542.5V435.5H692.5V457.5H693.5V609.5H694.5V627.5H695.5V435.5H696.5V536.5V465.5H697.5V565.5H698.5V435.5H699.5V510.5V627.5H700.5V489.5H701.5V451.5V521.5H702.5V627.5H703.5V506.5V458.5H704.5V516.5V627.5H705.5V479.5H706.5V518.5V459.5H707.5V553.5H708.5V437.5H709.5V439.5H710.5V489.5H711.5V474.5H712.5V435.5H716.5V480.5H717.5V436.5H719.5V438.5H720.5V476.5H721.5V449.5H722.5V477.5H723.5V518.5H724.5V457.5H725.5V439.5V502.5H729.5V435.5H731.5V449.5H732.5V492.5H733.5V604.5H734.5V438.5H735.5V578.5H736.5V441.5H737.5V461.5H745.5V457.5H752.5V474.5H757.5V452.5H760.5V458.5H768.5V436.5H772.5V465.5H773.5V437.5H779.5V445.5H780.5V485.5H781.5V436.5H785.5V457.5H786.5V442.5H788.5V452.5H789.5V447.5H791.5V446.5H793.5V435.5H794.5V500.5V627.5V480.5H795.5V624.5V487.5V468.5V565.5H796.5V627.5V510.5V610.5V481.5H797.5V627.5V540.5V513.5H798.5V627.5V446.5V484.5V627.5H799.5V531.5V627.5H800.5V437.5V516.5V627.5H801.5V469.5V627.5V435.5H802.5V497.5H804.5V435.5H805.5V627.5H808.5V436.5H809.5V627.5H815.5V621.5H817.5V438.5H819.5V619.5H820.5V627.5H824.5V436.5H827.5V438.5H828.5V463.5H830.5V548.5H831.5V443.5H832.5V584.5H834.5V436.5H835.5V463.5H837.5V550.5H838.5V463.5V493.5H840.5V505.5H844.5V531.5H846.5V537.5H848.5V524.5H850.5V443.5H851.5V442.5H853.5V453.5H854.5V462.5H858.5V468.5H859.5V457.5H865.5V466.5H868.5V506.5H870.5V455.5H872.5V545.5H873.5V511.5H874.5V468.5H875.5V499.5H876.5V436.5H878.5V562.5H880.5V548.5V564.5H881.5V510.5H883.5V445.5H884.5V489.5H885.5V463.5H886.5V512.5H890.5V437.5H893.5V530.5H894.5V446.5H895.5V441.5H896.5V466.5H897.5V445.5H898.5V491.5H900.5V435.5H903.5V457.5H904.5V437.5H905.5V485.5H906.5V436.5H907.5V521.5H908.5V441.5H909.5V512.5H910.5V523.5H911.5V437.5H912.5V550.5H913.5V499.5H914.5V496.5H915.5V457.5H918.5V455.5H919.5V435.5H920.5V458.5V583.5H921.5V443.5H923.5V452.5H924.5V571.5H925.5V461.5H926.5V456.5V542.5H928.5V450.5H929.5V446.5H932.5V435.5H933.5V446.5H934.5V559.5H935.5V478.5H936.5V444.5H937.5V550.5H939.5V468.5H941.5V530.5H942.5V452.5H945.5V541.5H946.5V458.5H950.5V459.5H953.5V460.5V548.5H955.5V460.5V592.5H956.5V546.5H960.5V475.5H961.5V544.5H962.5V479.5H963.5V560.5H964.5V627.5H968.5V492.5H970.5V579.5H971.5V483.5H973.5V478.5H974.5V588.5H975.5V546.5H977.5V627.5H978.5V517.5H979.5V449.5H980.5V627.5V533.5H981.5V627.5V542.5V516.5H982.5V614.5V532.5V507.5V627.5V572.5H983.5V627.5V559.5H984.5V627.5H985.5V451.5H987.5V452.5H990.5V449.5H991.5V627.5V483.5V627.5V540.5H992.5V627.5V463.5V447.5V627.5H993.5V473.5V627.5H994.5V450.5V466.5V627.5V470.5H995.5V627.5V558.5H996.5V457.5H997.5V529.5H999.5V466.5H1000.5V464.5H1002.5V458.5H1003.5V441.5H1004.5V459.5H1005.5V581.5V468.5H1010.5V513.5H1011.5V465.5H1012.5V550.5H1015.5V545.5H1016.5V541.5H1017.5V523.5H1018.5V500.5H1019.5V582.5H1020.5V497.5H1021.5V512.5H1022.5V590.5H1023.5V594.5V553.5H1025.5V447.5H1040.5V604.5H1041.5V530.5H1042.5V584.5H1043.5V613.5H1044.5V443.5H1048.5V491.5H1049.5V481.5H1050.5V447.5H1051.5V453.5H1052.5V436.5H1053.5V508.5H1054.5V450.5H1055.5V473.5H1056.5V482.5H1057.5V446.5H1058.5V583.5H1059.5V470.5H1060.5V536.5H1062.5V567.5V457.5H1064.5V473.5H1065.5V616.5V468.5H1066.5V532.5H1067.5V457.5H1069.5V490.5H1070.5V502.5H1071.5V492.5H1072.5V483.5H1073.5V440.5H1086.5V454.5H1087.5V452.5H1096.5V435.5H1097.5V451.5H1098.5V435.5H1100.5V541.5H1101.5V435.5H1102.5V567.5H1103.5V435.5H1104.5V459.5H1106.5V439.5H1108.5V517.5H1109.5V439.5H1114.5V435.5H1115.5V449.5H1116.5V497.5H1117.5V449.5H1118.5V486.5H1119.5V560.5H1120.5V435.5H1121.5V547.5H1122.5V437.5H1124.5V464.5H1126.5V480.5H1127.5V474.5H1128.5V568.5H1129.5V600.5H1130.5V539.5H1131.5V463.5H1132.5V445.5H1134.5V444.5H1135.5V627.5H1139.5V554.5H1140.5V477.5H1141.5V495.5H1142.5V489.5H1144.5V547.5H1145.5V491.5H1146.5V479.5H1147.5V574.5H1149.5V492.5H1150.5V566.5H1151.5V481.5H1152.5V561.5H1153.5V575.5H1154.5V480.5H1155.5V462.5H1156.5V593.5H1158.5V559.5H1159.5V564.5H1161.5V627.5H1162.5V526.5H1163.5V627.5H1164.5V543.5H1165.5V600.5H1166.5V469.5H1168.5V556.5V436.5H1172.5V626.5H1174.5V437.5H1179.5V435.5H1185.5V559.5V533.5H1187.5V435.5H1189.5V553.5H1190.5V482.5H1191.5V439.5H1192.5V498.5H1193.5V627.5H1195.5V619.5H1197.5V494.5H1200.5V444.5H1204.5V509.5H1205.5V627.5H1206.5V504.5H1207.5V627.5H1208.5V508.5H1209.5V471.5H1210.5V439.5H1211.5V548.5H1212.5V627.5V438.5H1213.5V546.5H1214.5V560.5V438.5H1215.5V457.5H1216.5V529.5H1217.5V465.5H1220.5V600.5H1222.5V436.5H1224.5V435.5H1226.5V493.5H1228.5V446.5H1229.5V476.5H1230.5V451.5H1232.5V447.5H1235.5V437.5H1241.5V469.5H1242.5V459.5H1244.5V463.5V458.5H1246.5V436.5H1248.5V605.5V436.5H1257.5V448.5H1258.5V564.5H1260.5V435.5H1263.5V450.5H1266.5V436.5H1267.5V435.5H1272.5V438.5H1273.5V444.5H1275.5V451.5H1276.5V482.5H1278.5V439.5H1279.5V449.5H1280.5V527.5V438.5H1281.5V450.5H1287.5V448.5H1294.5V455.5H1300.5V482.5H1303.5V542.5H1305.5V473.5V536.5H1308.5V435.5H1312.5V446.5H1314.5V435.5H1315.5V488.5H1316.5V468.5H1317.5V498.5H1318.5V436.5H1319.5V448.5H1320.5V435.5H1323.5V449.5H1324.5V469.5H1325.5V451.5H1326.5V475.5H1328.5V438.5H1329.5V505.5H1330.5V436.5H1332.5V482.5H1333.5V524.5H1335.5V504.5H1336.5V436.5H1338.5V459.5H1339.5V438.5H1341.5V467.5H1343.5V523.5H1344.5V436.5H1345.5V463.5V435.5H1347.5V495.5H1348.5V435.5H1350.5V451.5V434.5H1356.5V439.5H1357.5V514.5H1358.5V444.5H1359.5V523.5H1361.5V627.5H1365.5V497.5H1366.5V435.5H1367.5V521.5H1368.5V435.5H1369.5V478.5H1370.5V435.5H1371.5V484.5H1372.5V435.5H1375.5V450.5H1377.5V512.5V436.5H1382.5V435.5H1383.5V606.5H1384.5V436.5H1385.5V465.5H1386.5V523.5H1387.5V461.5H1388.5V483.5H1390.5V511.5H1391.5V474.5H1393.5V463.5H1394.5V442.5H1395.5V627.5H1398.5V442.5H1401.5V627.5H1405.5V460.5H1407.5V480.5H1409.5V600.5V472.5H1411.5V596.5H1412.5V441.5H1413.5V600.5H1414.5V436.5H1415.5V616.5H1416.5V444.5H1417.5V569.5H1419.5V436.5V437.5H1420.5V450.5H1421.5V437.5V449.5H1422.5V440.5H1423.5V450.5V439.5H1424.5V446.5V435.5V437.5H1425.5V514.5V437.5V443.5H1426.5V436.5H1427.5V437.5V444.5V577.5V436.5H1428.5V437.5V450.5H1429.5V440.5H1430.5V444.5V493.5H1432.5V447.5H1435.5V439.5H1439.5V468.5H1440.5V500.5H1441.5V464.5H1442.5V558.5H1443.5V537.5H1451.5V498.5H1452.5V627.5H1454.5V522.5H1456.5V588.5H1462.5V500.5H1465.5V501.5H1467.5V564.5H1470.5V576.5H1472.5V557.5H1476.5V575.5H1477.5V583.5H1481.5V578.5H1482.5V592.5H1483.5V616.5H1484.5V594.5H1485.5V562.5H1487.5V574.5H1488.5V564.5H1489.5V570.5H1491.5V590.5H1492.5V556.5H1493.5V627.5V561.5H1494.5V583.5H1495.5V603.5H1496.5V547.5H1498.5V578.5H1499.5V535.5H1503.5V582.5V538.5H1504.5V585.5H1506.5V588.5H1508.5V446.5H1510.5V581.5H1512.5V627.5H1513.5V461.5H1516.5V473.5H1519.5V460.5H1520.5V477.5H1523.5V463.5H1526.5V500.5H1527.5V627.5H1531.5V610.5H1532.5V627.5H1535.5V566.5H1536.5V627.5H1538.5V567.5H1539.5V627.5H1541.5V577.5H1543.5V457.5H1544.5V491.5V450.5H1546.5V516.5H1547.5V460.5H1549.5V463.5H1550.5V556.5H1552.5V550.5H1554.5V574.5H1555.5V627.5H1557.5V613.5H1559.5V512.5H1560.5V454.5H1562.5V599.5H1564.5V542.5H1566.5V597.5H1568.5V577.5H1569.5V608.5H1570.5V583.5H1571.5V544.5H1572.5V614.5H1574.5V627.5H1575.5V583.5H1576.5V539.5H1580.5V456.5H1585.5V493.5H1587.5V440.5H1588.5V534.5V450.5H1589.5V476.5H1590.5V435.5H1591.5V565.5H1594.5V450.5H1597.5V627.5H1598.5V439.5H1602.5V627.5H1604.5V455.5H1611.5V583.5H1612.5V480.5H1613.5V571.5H1615.5V527.5H1616.5V573.5H1618.5V627.5H1633.5V463.5V627.5H1634.5V455.5H1635.5V627.5H1636.5V439.5H1637.5V520.5H1638.5V435.5H1639.5V485.5H1640.5V593.5H1641.5V439.5H1643.5V552.5H1644.5V439.5H1645.5V495.5H1647.5V436.5H1648.5V462.5H1650.5V480.5V565.5H1653.5V537.5V593.5H1657.5V559.5H1659.5V526.5H1660.5V565.5H1662.5V436.5H1663.5V456.5H1664.5V436.5H1666.5V439.5H1668.5V454.5H1670.5V465.5H1671.5V463.5H1673.5V468.5H1674.5V582.5H1677.5V435.5H1679.5V460.5H1681.5V436.5H1684.5V625.5H1685.5V435.5H1686.5V627.5H1687.5V489.5H1688.5V435.5H1689.5V464.5H1690.5V436.5H1691.5V439.5H1692.5V612.5H1693.5V448.5H1694.5V459.5H1695.5V442.5H1696.5V487.5H1697.5V608.5H1698.5V480.5H1699.5V627.5H1700.5V441.5H1701.5V435.5H1702.5V461.5H1703.5V437.5V627.5H1705.5V463.5H1707.5V609.5H1708.5V439.5H1710.5V474.5H1712.5V436.5H1714.5V445.5H1715.5V442.5H1716.5V480.5H1717.5V443.5H1718.5V595.5H1719.5V438.5H1721.5V435.5H1723.5V627.5H1724.5V435.5H1726.5V445.5H1727.5V435.5H1728.5V482.5H1729.5V437.5H1730.5V448.5H1731.5V437.5H1732.5V609.5H1736.5V464.5H1737.5V575.5H1738.5V436.5H1740.5V589.5H1741.5V508.5V571.5H1742.5V446.5H1743.5V461.5H1744.5V577.5H1747.5V490.5H1749.5V627.5H1756.5V602.5H1757.5V627.5H1764.5V615.5H1765.5V627.5H1767.5V622.5H1771.5V627.5H1775.5V435.5H1777.5V618.5H1778.5V599.5H1780.5V612.5H1782.5V467.5H1789.5V512.5H1792.5V478.5H1795.5V480.5H1799.5V558.5H1808.5V585.5H1810.5V613.5H1811.5V585.5H1812.5V613.5H1816.5V595.5H1819.5V606.5H1820.5V598.5H1821.5V619.5H1822.5V599.5H1824.5V617.5H1828.5V591.5H1829.5V620.5H1830.5V590.5H1832.5V603.5H1834.5V584.5H1837.5V542.5H1838.5V589.5H1839.5V594.5H1841.5V617.5H1842.5V590.5H1844.5V580.5H1846.5V542.5H1847.5V449.5H1850.5V447.5H1852.5V450.5H1853.5V536.5V541.5H1856.5V491.5H1858.5V437.5H1859.5V527.5H1861.5V627.5V545.5H1864.5V463.5H1867.5V586.5V498.5H1869.5V463.5V524.5H1870.5V461.5H1871.5V511.5H1872.5V495.5H1874.5V451.5H1883.5V506.5H1884.5V451.5H1885.5V546.5H1887.5V553.5H1890.5V437.5H1897.5V474.5H1899.5V517.5V477.5H1902.5V609.5H1903.5V559.5H1904.5V627.5H1905.5V560.5H1906.5V588.5H1907.5V456.5H1910.5V444.5V627.5H1912.5V493.5V438.5H1914.5V627.5H1915.5V489.5H1916.5V611.5H1917.5V627.5H1918.5V455.5H1920.5V564.5H1921.5V627.5H1926.5V504.5H1927.5V582.5H1929.5V440.5H1932.5V627.5H1934.5V437.5H1935.5V454.5H1937.5V595.5H1938.5V602.5H1941.5V579.5H1943.5V617.5H1944.5V544.5H1947.5V447.5H1950.5V531.5H1951.5V545.5H1953.5V522.5H1954.5V536.5H1956.5V523.5H1957.5V588.5H1959.5V511.5V547.5H1961.5V546.5H1963.5V488.5H1965.5V595.5H1966.5V627.5H1967.5V438.5H1970.5V479.5H1971.5V437.5H1972.5V439.5H1976.5V567.5H1979.5V536.5H1981.5V568.5H1983.5V627.5H1984.5V495.5H1985.5V627.5H1987.5V560.5H1989.5V627.5H1990.5V605.5H1991.5V445.5H1993.5V627.5H1998.5V442.5H2001.5V581.5H2004.5V610.5H2006.5V451.5H2007.5V476.5H2008.5V468.5H2009.5V435.5H2010.5V489.5H2011.5V512.5H2012.5V478.5H2013.5V437.5H2014.5V481.5H2015.5V440.5H2018.5V499.5H2019.5V443.5H2020.5V461.5H2028.5V490.5H2032.5V545.5H2033.5V515.5H2034.5V488.5H2035.5V436.5H2038.5V477.5H2041.5V448.5H2046.5V512.5H2048.5V446.5V583.5H2049.5V507.5H2050.5V520.5H2051.5V511.5H2052.5V443.5H2053.5V627.5H2055.5V533.5H2056.5V508.5H2057.5V554.5H2058.5V440.5H2059.5V588.5H2060.5V514.5H2061.5V627.5H2062.5V440.5H2064.5V541.5H2065.5V450.5H2067.5V563.5H2068.5V436.5H2074.5V627.5H2077.5V442.5H2082.5V446.5V484.5V627.5H2083.5V496.5V627.5H2084.5V496.5V627.5H2085.5V472.5V627.5V486.5H2086.5V627.5V448.5H2087.5V627.5V469.5V627.5H2088.5V438.5H2090.5V565.5H2091.5V448.5H2092.5V521.5H2093.5V627.5H2094.5V541.5V496.5H2095.5V627.5H2097.5V440.5H2098.5V541.5H2099.5V442.5H2100.5V516.5V478.5H2101.5V499.5H2102.5V518.5H2103.5V434.5H2104.5V481.5H2105.5V459.5H2106.5V436.5H2107.5V603.5H2109.5V439.5V464.5H2110.5V446.5H2112.5V474.5V443.5H2113.5V471.5V532.5H2114.5V458.5V557.5H2115.5V471.5V564.5V465.5H2116.5V506.5V439.5H2117.5V517.5V442.5V535.5H2118.5V463.5H2119.5V546.5V457.5V556.5H2120.5V455.5V481.5H2121.5V627.5V496.5H2122.5V627.5V493.5V467.5H2123.5V538.5V540.5V460.5V518.5H2124.5V509.5V496.5H2125.5V627.5V539.5V610.5H2126.5V627.5V478.5V479.5V627.5H2127.5V502.5V537.5V627.5H2128.5V506.5H2129.5V627.5V517.5V501.5V437.5V531.5H2130.5V527.5V627.5H2131.5V532.5V627.5H2132.5V476.5V434.5V570.5H2133.5V459.5V627.5H2134.5V459.5V499.5V627.5H2135.5V435.5V482.5V627.5H2136.5V522.5V627.5V479.5H2137.5V531.5V627.5V527.5H2138.5V470.5V605.5V627.5H2139.5V463.5V501.5V627.5H2140.5V533.5V605.5H2141.5V609.5V503.5V491.5V620.5H2142.5V496.5V455.5V627.5H2143.5V450.5V540.5V627.5H2144.5V487.5V448.5V627.5V504.5V527.5H2145.5V627.5H2146.5V435.5V627.5H2147.5V558.5H2148.5V435.5H2149.5V514.5H2150.5V465.5H2152.5V533.5V435.5H2154.5V488.5H2155.5V491.5H2156.5V606.5H2157.5V509.5H2158.5V485.5H2159.5V442.5H2161.5V476.5V441.5H2163.5V439.5H2164.5V438.5H2165.5V458.5H2166.5V461.5H2167.5V594.5V627.5H2173.5V470.5H2174.5V627.5H2175.5V500.5H2176.5V492.5V627.5H2179.5V545.5V616.5H2181.5V627.5H2183.5V455.5H2184.5V627.5H2185.5V568.5H2187.5V627.5V484.5H2191.5V624.5H2192.5V444.5H2194.5V627.5H2195.5V510.5H2196.5V544.5V627.5H2197.5V574.5V627.5H2198.5V551.5V627.5V592.5H2199.5V627.5V556.5V627.5H2200.5V548.5V627.5V599.5H2201.5V545.5V573.5V627.5H2202.5V555.5V627.5V573.5H2203.5V617.5V627.5H2204.5V544.5V627.5V546.5V550.5H2205.5V627.5H2206.5V577.5V627.5V593.5V573.5H2207.5V627.5V533.5H2208.5V577.5V627.5V574.5H2209.5V627.5H2210.5V557.5V571.5V627.5H2211.5V542.5V627.5V574.5V556.5H2212.5V627.5V491.5V537.5H2213.5V627.5V602.5V566.5H2214.5V627.5V567.5V438.5H2217.5V486.5H2218.5V457.5H2221.5V462.5H2222.5V474.5H2223.5V461.5H2224.5V485.5H2225.5V527.5H2226.5V465.5H2227.5V493.5H2228.5V552.5H2229.5V515.5V451.5H2230.5V444.5H2234.5V452.5H2235.5V627.5H2236.5V507.5V439.5H2238.5V438.5H2239.5V451.5H2240.5V463.5H2241.5V454.5H2242.5V436.5V627.5H2243.5V463.5H2244.5V478.5H2245.5V521.5V627.5V555.5H2246.5V627.5V531.5H2247.5V627.5V515.5V627.5H2248.5V481.5V627.5H2249.5V436.5V510.5V497.5H2250.5V627.5V529.5V627.5H2251.5V518.5V627.5H2252.5V534.5V627.5H2253.5V625.5H2255.5V581.5V627.5H2256.5V610.5H2257.5V627.5H2258.5V588.5H2259.5V627.5H2261.5V574.5H2262.5V627.5V539.5H2263.5V627.5V523.5H2264.5V627.5V460.5V627.5H2265.5V468.5V565.5H2266.5V457.5V627.5V481.5H2267.5V627.5V536.5H2268.5V627.5V478.5V627.5H2269.5V539.5V627.5H2270.5V443.5V627.5V478.5H2271.5V613.5V514.5V619.5H2272.5V472.5V627.5H2273.5V535.5V627.5H2274.5V482.5V435.5H2278.5V501.5H2279.5V506.5H2280.5V627.5H2281.5V458.5H2283.5V460.5V580.5H2284.5V627.5H2286.5V435.5V487.5H2287.5V578.5V627.5V506.5H2288.5V528.5V541.5H2289.5V457.5V627.5V548.5V490.5H2290.5V627.5V479.5H2291.5V627.5V580.5V487.5H2292.5V627.5V462.5V494.5H2293.5V627.5V468.5H2295.5V449.5H2296.5V457.5H2297.5V438.5H2299.5V442.5H2300.5V627.5V481.5H2301.5V627.5V485.5H2302.5V627.5V532.5V627.5H2303.5V474.5V506.5H2304.5V479.5V627.5V516.5H2305.5V627.5V439.5V627.5H2306.5V532.5V627.5H2307.5V604.5H2308.5V510.5H2309.5V493.5V531.5H2310.5V627.5H2311.5V518.5H2313.5V565.5H2314.5V627.5V557.5V627.5V582.5H2315.5V627.5V576.5H2316.5V627.5V577.5V627.5H2317.5V566.5V627.5V552.5H2318.5V627.5V575.5H2319.5V627.5V546.5V627.5H2320.5V548.5V627.5H2321.5V537.5V627.5V552.5H2322.5V620.5V476.5H2323.5V627.5V458.5V627.5H2324.5V463.5V627.5H2325.5V530.5V627.5V471.5H2326.5V627.5V541.5V627.5H2327.5V461.5V627.5V506.5H2328.5V516.5V487.5H2329.5V627.5V444.5H2330.5V627.5V500.5H2331.5V559.5V437.5H2332.5V501.5V627.5V546.5H2333.5V542.5V608.5V557.5H2334.5V522.5V627.5H2335.5V490.5V627.5V535.5V446.5H2336.5V627.5H2337.5V542.5V438.5V627.5H2338.5V619.5V567.5V560.5V437.5H2339.5V564.5V627.5V518.5H2340.5V533.5V602.5V627.5H2341.5V508.5V627.5V441.5H2342.5V553.5V435.5V627.5H2343.5V534.5V493.5H2344.5V550.5V627.5V505.5V627.5H2345.5V437.5V531.5H2346.5V627.5V457.5V508.5H2347.5V627.5V538.5V627.5H2348.5V489.5V627.5H2349.5V540.5V627.5V512.5H2350.5V627.5V549.5V627.5H2351.5V493.5V627.5H2352.5V519.5V627.5V537.5H2353.5V627.5V501.5H2354.5V627.5V520.5V627.5H2355.5V512.5V435.5H2356.5V518.5H2357.5V544.5H2358.5V557.5H2359.5V561.5H2361.5V602.5V545.5H2362.5V627.5V573.5V578.5H2363.5V573.5V627.5V567.5H2364.5V627.5V557.5V627.5H2365.5V586.5V528.5V627.5V595.5V567.5H2366.5V627.5V588.5H2367.5V627.5V550.5H2368.5V626.5V566.5V627.5H2369.5V437.5V459.5V627.5V459.5H2370.5V627.5V469.5H2371.5V448.5V627.5V606.5V503.5H2372.5V627.5V505.5V437.5H2373.5V627.5V617.5V490.5H2374.5V627.5V512.5H2375.5V627.5V493.5H2376.5V437.5H2377.5V448.5H2378.5V437.5H2379.5V457.5H2381.5V597.5H2382.5V435.5H2383.5V516.5H2384.5V527.5H2385.5V450.5H2386.5V469.5H2387.5V435.5H2388.5V627.5H2389.5V435.5H2391.5V457.5H2394.5V460.5V484.5H2395.5V531.5H2396.5V480.5H2397.5V443.5V554.5H2398.5V482.5H2399.5V501.5H2400.5V618.5H2401.5V436.5H2403.5V506.5H2404.5V468.5H2405.5V627.5H2406.5V438.5V507.5H2409.5V461.5V478.5H2411.5V438.5H2412.5V493.5H2413.5V474.5H2414.5V627.5H2419.5V586.5V627.5H2421.5V574.5H2422.5V627.5H2426.5V612.5H2427.5V577.5H2428.5V554.5H2429.5V627.5V439.5H2430.5V627.5H2432.5V462.5H2433.5V553.5H2434.5V436.5H2435.5V627.5H2436.5V493.5H2437.5V449.5H2438.5V494.5H2439.5V438.5H2441.5V446.5H2442.5V534.5H2443.5V627.5H2444.5V488.5H2446.5V627.5H2447.5V443.5H2448.5V468.5H2449.5V627.5H2450.5V478.5H2453.5V627.5V474.5H2455.5V485.5H2456.5V555.5H2457.5V524.5H2458.5V534.5V627.5H2463.5V529.5H2464.5V532.5H2465.5V600.5V596.5V627.5H2466.5V589.5V520.5V627.5H2467.5V588.5V627.5V554.5H2468.5V592.5V627.5H2469.5V592.5V531.5V627.5V561.5H2470.5V587.5V584.5V627.5H2471.5V588.5V627.5V574.5V596.5H2472.5V627.5V587.5H2473.5V627.5V565.5V591.5H2474.5V605.5V627.5V580.5H2475.5V590.5V572.5H2476.5V449.5V627.5V568.5H2477.5V598.5V502.5V581.5H2478.5V515.5V627.5V565.5V575.5V595.5H2479.5V627.5H2480.5V595.5H2482.5V457.5H2483.5V435.5H2485.5V437.5H2486.5V557.5H2487.5V512.5H2488.5V436.5H2490.5V435.5H2494.5V436.5H2496.5V435.5H2502.5V448.5V435.5H2505.5V627.5H2506.5V495.5H2507.5V435.5H2512.5V442.5H2514.5V447.5H2515.5V464.5H2516.5V470.5H2517.5V435.5H2518.5V541.5H2519.5V450.5H2520.5V435.5H2521.5V570.5V437.5H2522.5V523.5H2523.5V450.5H2524.5V510.5V439.5H2526.5V467.5H2527.5V446.5H2528.5V443.5H2529.5V435.5H2530.5V449.5H2531.5V581.5V435.5H2534.5V437.5H2536.5V554.5H2537.5V607.5V627.5H2539.5V446.5V627.5H2540.5V435.5H2541.5V627.5H2542.5V435.5H2544.5V627.5H2593.5V612.5H2597.5V627.5H2607.5V526.5H2610.5V440.5H2615.5V450.5H2617.5V484.5H2618.5V500.5V520.5H2619.5V507.5H2620.5V541.5H2623.5V435.5H2627.5V457.5H2630.5V486.5H2632.5V507.5H2633.5V436.5H2640.5V486.5H2642.5V578.5H2643.5V627.5H2644.5V466.5H2645.5V456.5H2646.5V490.5H2647.5V495.5H2648.5V625.5H2649.5V552.5V627.5V501.5H2650.5V593.5V537.5V627.5H2651.5V560.5V627.5H2652.5V549.5V627.5V551.5H2653.5V627.5V560.5H2654.5V515.5H2656.5V442.5V516.5H2657.5V466.5H2659.5V534.5H2660.5V460.5H2661.5V494.5H2662.5V542.5H2664.5V606.5V476.5H2665.5V492.5H2667.5V443.5H2668.5V452.5H2669.5V548.5H2670.5V455.5H2673.5V444.5H2675.5V493.5H2677.5V437.5H2678.5V495.5H2680.5V440.5H2682.5V533.5H2683.5V458.5H2684.5V627.5H2686.5V461.5H2688.5V556.5H2690.5V559.5V607.5H2691.5V456.5H2692.5V530.5H2700.5V627.5H2717.5V575.5H2718.5V563.5H2720.5V627.5H2728.5V455.5H2729.5V453.5H2730.5V480.5H2732.5V558.5H2734.5V585.5V625.5H2735.5V585.5H2736.5V627.5H2738.5V590.5H2740.5V591.5H2741.5V627.5H2745.5V455.5H2747.5V445.5H2929.5V517.5H2938.5" fill="none" stroke="#4169e1" stroke-width="1" stroke-linejoin="miter"/>
<path d="M119.5 825.5H167.5V550.5V825.5H168.5V811.5H169.5V825.5H185.5V795.5H186.5V785.5H187.5V802.5H189.5V825.5H200.5V816.5H201.5V825.5H209.5V775.5H210.5V825.5H215.5V785.5V789.5H216.5V825.5H218.5V816.5V718.5H219.5V825.5H221.5V775.5V825.5H225.5V786.5V767.5V825.5H226.5V765.5V596.5V820.5H227.5V708.5V825.5V711.5H228.5V708.5V825.5V763.5V707.5H229.5V825.5V796.5V747.5H230.5V825.5V747.5V758.5V825.5H231.5V707.5H232.5V825.5V636.5V757.5V825.5H233.5V724.5V825.5V688.5H234.5V701.5V825.5H235.5V802.5V721.5V825.5H237.5V785.5H238.5V795.5H239.5V744.5H240.5V825.5H244.5V773.5V825.5H246.5V801.5H247.5V747.5V825.5H253.5V714.5V729.5H255.5V825.5H266.5V819.5H268.5V825.5H270.5V773.5H271.5V775.5V825.5H282.5V770.5V791.5H283.5V825.5H284.5V788.5V825.5V808.5V789.5H285.5V825.5V788.5H286.5V806.5V791.5V788.5H287.5V825.5V791.5H288.5V825.5V789.5V793.5V825.5H289.5V795.5V825.5H290.5V792.5V795.5V825.5H291.5V594.5V790.5V825.5V816.5H292.5V790.5V801.5V796.5H293.5V819.5V825.5H294.5V773.5H296.5V774.5H297.5V825.5H299.5V773.5V788.5V825.5H300.5V729.5V780.5V825.5V744.5V760.5H301.5V825.5V757.5H302.5V758.5V825.5V767.5H303.5V825.5V768.5H304.5V825.5V779.5V778.5H305.5V825.5V776.5H306.5V781.5V825.5V758.5H307.5V825.5V768.5V757.5V825.5H308.5V786.5V770.5V825.5H309.5V774.5V825.5V785.5H310.5V768.5V825.5V779.5H311.5V778.5V814.5H312.5V778.5V796.5V810.5V776.5H313.5V825.5V764.5H314.5V772.5V825.5V757.5V822.5H315.5V825.5V781.5V638.5V825.5H316.5V776.5H317.5V825.5V768.5H318.5V825.5V776.5V774.5V825.5H319.5V702.5H320.5V773.5H330.5V809.5V825.5H333.5V775.5H334.5V825.5H338.5V775.5H339.5V772.5H340.5V779.5H341.5V773.5H342.5V812.5H343.5V775.5H344.5V815.5H347.5V776.5H348.5V778.5H350.5V808.5H351.5V802.5H353.5V825.5H354.5V783.5V776.5V825.5H355.5V773.5V774.5V825.5H356.5V790.5V825.5H357.5V773.5V770.5V802.5V773.5H358.5V825.5V774.5V786.5H359.5V783.5V811.5V779.5H360.5V825.5V773.5H361.5V785.5V801.5V783.5H362.5V818.5V810.5V779.5H363.5V825.5V749.5V781.5V825.5H364.5V787.5V730.5H365.5V825.5V788.5V825.5H366.5V777.5V773.5V825.5H367.5V778.5V707.5V825.5V792.5H368.5V768.5V825.5V775.5H369.5V803.5V825.5V775.5H370.5V774.5V825.5V778.5H371.5V825.5H383.5V774.5H385.5V825.5H400.5V821.5H402.5V811.5V823.5H404.5V815.5H405.5V825.5H407.5V807.5H408.5V825.5H412.5V783.5H423.5V825.5H425.5V789.5H426.5V825.5H432.5V793.5H433.5V825.5H436.5V776.5H437.5V825.5H446.5V800.5V825.5H465.5V809.5H466.5V825.5H503.5V771.5H504.5V825.5H519.5V823.5H521.5V825.5H527.5V818.5H528.5V825.5H531.5V816.5H534.5V825.5H542.5V787.5H544.5V782.5H546.5V771.5H548.5V687.5H549.5V728.5H553.5V738.5H559.5V754.5H566.5V825.5H568.5V816.5H572.5V803.5H573.5V785.5H575.5V723.5H576.5V738.5H577.5V781.5H578.5V814.5H579.5V776.5H580.5V743.5H581.5V758.5H582.5V777.5H583.5V754.5H588.5V825.5H589.5V770.5H591.5V773.5H593.5V814.5H594.5V776.5H597.5V782.5H599.5V778.5H600.5V802.5H603.5V770.5H607.5V783.5H609.5V787.5H610.5V825.5H611.5V780.5H612.5V747.5H613.5V789.5H615.5V785.5H618.5V825.5H620.5V736.5H621.5V808.5H622.5V776.5H623.5V749.5H624.5V776.5H626.5V798.5H628.5V825.5H630.5V771.5H632.5V825.5V774.5H633.5V771.5H634.5V793.5H635.5V772.5V825.5H636.5V772.5H638.5V825.5H640.5V802.5H641.5V814.5H642.5V785.5H644.5V803.5H645.5V818.5H646.5V825.5H649.5V771.5H650.5V800.5H651.5V773.5H652.5V825.5H653.5V790.5H654.5V784.5H655.5V778.5H658.5V825.5H660.5V778.5H661.5V707.5H662.5V692.5H663.5V762.5H665.5V825.5H667.5V791.5V767.5H669.5V685.5H671.5V744.5H672.5V705.5H673.5V728.5H674.5V702.5H675.5V687.5H677.5V701.5H679.5V727.5H680.5V755.5H681.5V727.5H682.5V734.5H683.5V655.5H684.5V695.5H685.5V724.5H686.5V796.5H687.5V825.5H688.5V777.5H690.5V653.5H691.5V802.5H692.5V743.5H693.5V698.5H694.5V685.5H695.5V706.5H697.5V825.5H698.5V773.5H699.5V825.5H707.5V807.5H708.5V666.5H710.5V689.5H712.5V699.5V825.5H713.5V672.5H714.5V691.5H715.5V782.5H716.5V658.5H717.5V680.5H718.5V743.5H720.5V802.5H721.5V769.5H723.5V825.5H724.5V736.5H725.5V785.5H726.5V759.5H729.5V772.5H731.5V825.5H734.5V781.5H735.5V790.5H737.5V825.5H768.5V775.5H772.5V825.5H773.5V778.5H779.5V801.5H780.5V773.5H785.5V825.5H786.5V795.5H788.5V825.5H789.5V817.5H791.5V814.5H792.5V773.5H794.5V825.5H797.5V814.5H799.5V781.5H800.5V771.5H802.5V825.5H804.5V771.5H805.5V825.5H808.5V774.5H809.5V825.5H817.5V783.5H819.5V825.5H824.5V773.5H825.5V777.5H828.5V825.5H831.5V783.5H832.5V798.5H834.5V776.5H835.5V749.5H837.5V706.5H838.5V749.5H839.5V810.5H840.5V786.5H844.5V714.5H846.5V760.5H848.5V825.5H850.5V800.5H851.5V795.5H853.5V825.5H859.5V761.5H865.5V701.5H868.5V747.5H870.5V773.5H872.5V726.5H873.5V724.5H874.5V754.5H875.5V776.5H878.5V823.5H879.5V825.5H881.5V768.5H882.5V813.5H883.5V807.5H885.5V644.5H886.5V707.5H890.5V739.5H892.5V825.5H893.5V690.5H894.5V682.5H897.5V686.5V808.5H898.5V690.5H900.5V666.5H903.5V691.5H904.5V783.5H905.5V825.5H906.5V697.5V655.5H907.5V670.5H909.5V738.5H911.5V700.5H912.5V742.5H913.5V724.5H914.5V825.5H915.5V698.5H917.5V780.5H918.5V730.5H920.5V726.5H921.5V717.5H923.5V715.5H925.5V753.5H926.5V640.5V719.5H927.5V625.5H929.5V761.5H930.5V743.5H932.5V659.5H934.5V699.5H935.5V825.5V749.5H936.5V710.5H937.5V825.5H938.5V744.5H939.5V741.5H941.5V727.5H943.5V702.5H945.5V730.5H946.5V825.5H979.5V822.5H980.5V825.5H990.5V823.5H991.5V825.5H993.5V813.5V821.5H994.5V825.5H1003.5V792.5H1004.5V825.5H1025.5V816.5H1040.5V825.5H1043.5V798.5H1048.5V818.5H1049.5V825.5H1050.5V813.5H1052.5V776.5H1053.5V825.5H1056.5V813.5H1058.5V825.5H1073.5V788.5H1086.5V825.5H1096.5V772.5H1097.5V825.5H1098.5V772.5H1100.5V825.5V772.5H1104.5V825.5H1106.5V785.5H1108.5V787.5H1109.5V825.5H1110.5V785.5H1114.5V773.5H1115.5V822.5H1117.5V823.5H1118.5V825.5H1120.5V773.5H1121.5V779.5H1124.5V825.5H1132.5V806.5H1133.5V803.5H1135.5V825.5H1168.5V773.5H1172.5V825.5H1174.5V776.5H1179.5V771.5H1182.5V776.5V770.5H1184.5V825.5H1186.5V771.5H1189.5V825.5H1191.5V787.5H1192.5V825.5H1200.5V804.5H1204.5V825.5H1210.5V788.5V825.5H1212.5V786.5V825.5H1214.5V782.5V825.5H1216.5V784.5V825.5H1222.5V773.5H1225.5V770.5H1226.5V825.5H1228.5V811.5H1229.5V825.5H1231.5V814.5H1232.5V818.5H1235.5V777.5H1241.5V825.5H1245.5V774.5H1248.5V667.5V773.5H1256.5V821.5H1258.5V772.5V825.5H1260.5V772.5H1263.5V825.5H1265.5V779.5H1267.5V618.5V773.5H1268.5V770.5H1270.5V772.5H1272.5V783.5H1274.5V800.5H1275.5V825.5H1278.5V792.5H1279.5V772.5H1281.5V711.5V822.5H1288.5V740.5H1294.5V773.5H1300.5V743.5H1303.5V825.5H1304.5V769.5H1308.5V755.5H1312.5V812.5H1314.5V770.5H1316.5V825.5H1317.5V773.5H1318.5V702.5H1319.5V630.5H1321.5V771.5H1322.5V689.5H1323.5V823.5H1324.5V707.5H1325.5V673.5H1326.5V734.5H1327.5V825.5H1329.5V781.5H1330.5V774.5H1332.5V825.5H1336.5V773.5H1338.5V783.5H1341.5V825.5H1343.5V772.5H1345.5V825.5V773.5H1346.5V777.5H1347.5V771.5H1348.5V716.5H1349.5V738.5H1350.5V752.5V803.5H1352.5V739.5H1353.5V679.5H1354.5V760.5H1355.5V724.5H1356.5V794.5H1358.5V782.5H1359.5V807.5V825.5H1365.5V771.5H1366.5V825.5H1368.5V770.5H1369.5V771.5H1370.5V787.5H1371.5V773.5H1372.5V776.5H1375.5V819.5H1376.5V825.5H1377.5V774.5H1379.5V772.5H1382.5V775.5H1384.5V825.5H1394.5V795.5H1395.5V825.5H1398.5V796.5H1401.5V825.5H1412.5V787.5H1414.5V775.5H1416.5V803.5H1419.5V775.5H1422.5V802.5H1423.5V775.5H1424.5V627.5H1425.5V741.5H1426.5V785.5H1427.5V789.5H1429.5V776.5H1430.5V825.5H1432.5V815.5H1436.5V784.5H1439.5V825.5H1464.5V753.5H1467.5V825.5H1470.5V803.5H1472.5V772.5H1476.5V783.5H1477.5V795.5H1481.5V752.5H1484.5V729.5H1485.5V825.5H1486.5V773.5H1487.5V799.5H1489.5V825.5H1491.5V789.5H1492.5V753.5H1493.5V768.5H1494.5V817.5H1495.5V759.5H1497.5V811.5H1498.5V723.5H1500.5V747.5H1501.5V752.5H1503.5V730.5H1504.5V739.5H1505.5V771.5H1508.5V760.5H1510.5V825.5H1546.5V782.5H1547.5V825.5H1550.5V807.5H1551.5V798.5H1554.5V825.5H1558.5V803.5H1560.5V825.5H1562.5V759.5H1564.5V778.5H1567.5V784.5H1568.5V789.5H1571.5V777.5H1572.5V825.5H1587.5V786.5H1588.5V825.5H1591.5V770.5V825.5H1598.5V785.5H1602.5V825.5H1636.5V785.5H1637.5V776.5H1638.5V769.5H1639.5V807.5H1640.5V784.5H1643.5V825.5H1645.5V788.5H1646.5V779.5H1648.5V777.5V825.5H1650.5V816.5H1652.5V825.5H1662.5V775.5H1663.5V825.5H1664.5V775.5H1665.5V773.5H1666.5V785.5H1667.5V825.5H1677.5V753.5H1678.5V765.5H1679.5V825.5H1681.5V774.5H1683.5V825.5H1684.5V771.5H1687.5V690.5V771.5H1690.5V732.5H1691.5V774.5H1692.5V792.5H1693.5V825.5H1694.5V767.5H1695.5V796.5H1696.5V809.5H1698.5V825.5H1699.5V789.5H1700.5V754.5H1702.5V768.5H1703.5V825.5V768.5H1705.5V737.5V778.5H1707.5V825.5H1708.5V784.5H1711.5V783.5H1712.5V763.5H1713.5V742.5V779.5H1715.5V795.5H1716.5V762.5H1717.5V814.5H1718.5V773.5H1719.5V778.5H1722.5V771.5H1723.5V825.5H1724.5V755.5H1725.5V773.5H1726.5V767.5H1727.5V775.5H1728.5V807.5H1729.5V711.5V770.5H1730.5V776.5H1732.5V825.5H1738.5V773.5H1740.5V791.5H1742.5V779.5H1744.5V825.5H1756.5V803.5H1757.5V825.5H1775.5V773.5H1777.5V768.5H1780.5V816.5H1782.5V825.5H1799.5V781.5H1808.5V754.5H1811.5V739.5H1812.5V825.5H1816.5V811.5H1819.5V825.5H1820.5V805.5H1821.5V825.5H1822.5V807.5H1824.5V825.5H1828.5V800.5H1830.5V799.5H1832.5V796.5H1833.5V816.5H1835.5V825.5H1836.5V805.5H1837.5V825.5H1838.5V817.5H1841.5V809.5H1843.5V760.5H1846.5V825.5H1847.5V787.5H1849.5V811.5H1850.5V819.5H1852.5V825.5H1858.5V779.5H1859.5V825.5H1884.5V823.5H1885.5V825.5H1890.5V777.5H1897.5V825.5H1908.5V808.5H1910.5V805.5H1911.5V825.5H1912.5V796.5H1913.5V783.5H1914.5V825.5H1927.5V730.5V825.5H1929.5V789.5H1933.5V825.5H1934.5V779.5H1935.5V825.5H1947.5V813.5H1950.5V775.5H1951.5V771.5H1953.5V752.5H1954.5V821.5H1956.5V781.5H1957.5V825.5H1959.5V767.5V813.5H1960.5V825.5H1967.5V783.5H1970.5V777.5H1971.5V785.5H1976.5V825.5H1991.5V807.5H1993.5V756.5H1998.5V798.5H2001.5V825.5H2004.5V736.5H2006.5V825.5H2009.5V771.5H2010.5V825.5H2012.5V778.5H2014.5V787.5H2018.5V802.5H2020.5V825.5H2035.5V773.5H2038.5V825.5H2041.5V816.5H2046.5V825.5H2048.5V812.5H2049.5V825.5H2052.5V798.5H2053.5V825.5H2059.5V789.5V825.5H2062.5V790.5H2064.5V825.5H2065.5V819.5H2068.5V774.5H2074.5V825.5H2077.5V774.5H2082.5V813.5H2083.5V817.5H2084.5V825.5H2088.5V784.5H2090.5V825.5H2091.5V821.5H2092.5V825.5H2097.5V794.5V670.5H2098.5V795.5H2100.5V825.5H2103.5V770.5H2104.5V825.5H2106.5V776.5V702.5H2107.5V793.5H2108.5V769.5H2109.5V809.5V788.5V808.5H2110.5V825.5V791.5H2111.5V825.5V802.5V790.5H2112.5V825.5V785.5V763.5H2113.5V825.5V787.5V825.5V794.5H2114.5V791.5V825.5V747.5H2115.5V772.5V825.5V786.5H2116.5V768.5V825.5V722.5H2117.5V766.5V825.5V604.5H2118.5V768.5V798.5V825.5H2119.5V779.5V825.5H2126.5V808.5V825.5H2129.5V781.5H2131.5V768.5H2132.5V743.5H2133.5V825.5H2135.5V773.5H2136.5V825.5H2141.5V803.5H2142.5V823.5H2144.5V825.5H2146.5V773.5H2148.5V825.5H2152.5V772.5H2154.5V825.5H2158.5V816.5H2160.5V792.5H2161.5V771.5V784.5H2164.5V783.5H2165.5V794.5H2166.5V813.5H2167.5V825.5H2178.5V787.5V823.5H2179.5V825.5H2192.5V803.5H2194.5V825.5H2205.5V786.5H2206.5V825.5H2207.5V796.5H2210.5V825.5H2215.5V781.5H2217.5V825.5H2227.5V778.5V825.5H2229.5V742.5V825.5H2230.5V803.5H2234.5V822.5H2236.5V794.5H2237.5V782.5H2239.5V825.5H2242.5V774.5V825.5H2249.5V773.5V825.5H2262.5V795.5V825.5H2264.5V789.5V825.5H2269.5V778.5V763.5V778.5H2270.5V772.5V825.5H2271.5V702.5V748.5V825.5H2272.5V773.5V791.5V825.5H2274.5V770.5V783.5H2275.5V825.5V775.5H2276.5V751.5V825.5V777.5H2277.5V825.5V771.5V773.5H2278.5V825.5V774.5H2279.5V825.5V793.5V771.5H2280.5V825.5H2281.5V787.5V825.5H2282.5V801.5H2283.5V825.5H2287.5V776.5H2289.5V730.5V776.5H2290.5V795.5H2291.5V825.5H2296.5V810.5V825.5H2297.5V784.5V791.5H2298.5V825.5H2299.5V793.5V814.5V796.5V791.5H2300.5V825.5V792.5H2301.5V825.5V792.5H2302.5V825.5V791.5V792.5H2303.5V825.5V793.5V774.5V825.5H2304.5V785.5V825.5H2305.5V793.5H2306.5V692.5V816.5V825.5H2313.5V795.5V825.5H2323.5V781.5V791.5V825.5H2324.5V789.5V825.5V777.5H2325.5V779.5V825.5V780.5H2326.5V825.5V779.5H2327.5V776.5V825.5V792.5V788.5H2328.5V825.5V789.5H2329.5V825.5V778.5V803.5H2330.5V825.5V787.5V778.5H2331.5V825.5V790.5V825.5H2332.5V755.5V791.5V825.5V793.5H2333.5V777.5H2334.5V825.5V748.5V786.5V811.5V825.5H2335.5V778.5V825.5H2336.5V787.5V785.5V825.5V789.5H2337.5V825.5H2338.5V778.5V825.5H2339.5V668.5H2340.5V783.5V782.5V819.5H2341.5V782.5V825.5V773.5H2342.5V779.5V804.5H2343.5V787.5V783.5V825.5H2344.5V779.5V787.5V825.5H2345.5V777.5V825.5H2346.5V777.5V825.5H2347.5V782.5V780.5V825.5V755.5H2348.5V786.5V825.5V794.5H2349.5V786.5V825.5H2355.5V772.5V773.5V825.5H2356.5V781.5V825.5V722.5H2357.5V780.5V773.5V799.5H2358.5V779.5V825.5H2368.5V779.5V759.5H2369.5V825.5V749.5H2370.5V714.5V825.5V784.5H2371.5V697.5V825.5V747.5V787.5H2372.5V825.5V775.5V825.5H2373.5V756.5V767.5V825.5V777.5H2374.5V764.5V825.5H2375.5V744.5V818.5V784.5V763.5H2376.5V825.5V753.5H2377.5V778.5V825.5V760.5H2378.5V812.5V825.5H2380.5V778.5V777.5H2381.5V825.5V783.5H2382.5V798.5V771.5V773.5H2383.5V825.5V776.5V822.5H2384.5V781.5H2385.5V825.5V781.5H2386.5V825.5V779.5V793.5V669.5H2387.5V773.5V774.5V825.5H2388.5V782.5V825.5V776.5H2389.5V825.5H2390.5V780.5V825.5H2391.5V776.5V825.5H2396.5V801.5H2397.5V825.5H2399.5V788.5V790.5V825.5H2400.5V790.5V774.5V821.5V779.5H2401.5V825.5V778.5H2402.5V776.5V820.5V786.5H2403.5V825.5H2405.5V783.5H2406.5V825.5H2411.5V785.5H2412.5V825.5H2429.5V791.5H2430.5V825.5H2433.5V624.5H2434.5V773.5V774.5V825.5H2435.5V780.5V761.5V825.5V771.5H2436.5V825.5V769.5H2437.5V696.5V825.5H2438.5V766.5V764.5H2439.5V825.5V761.5H2440.5V825.5H2441.5V789.5V821.5V736.5H2442.5V757.5V825.5V753.5H2443.5V785.5V825.5V779.5H2444.5V816.5V825.5H2445.5V823.5H2446.5V825.5H2447.5V774.5V789.5V825.5H2448.5V770.5V722.5V825.5V792.5H2449.5V825.5V811.5H2450.5V825.5H2453.5V823.5H2455.5V825.5H2463.5V808.5V825.5H2465.5V771.5H2466.5V796.5H2467.5V806.5H2469.5V825.5H2470.5V776.5V787.5H2471.5V825.5V790.5V791.5H2472.5V825.5H2473.5V793.5V825.5V779.5V786.5H2474.5V825.5V785.5H2475.5V792.5V825.5H2476.5V822.5H2477.5V825.5H2478.5V805.5V825.5H2483.5V744.5V695.5V825.5H2484.5V688.5V701.5H2485.5V733.5V687.5V783.5H2486.5V748.5V680.5H2487.5V770.5V785.5H2488.5V724.5V740.5V759.5H2489.5V755.5V734.5H2490.5V689.5V665.5H2491.5V825.5V723.5V655.5H2492.5V825.5V689.5H2493.5V707.5V825.5V691.5H2494.5V812.5H2495.5V691.5V635.5V801.5H2496.5V693.5V762.5H2497.5V819.5V713.5H2498.5V682.5V825.5V752.5H2499.5V727.5V767.5H2500.5V761.5V762.5H2501.5V700.5V732.5H2502.5V825.5V817.5V717.5H2503.5V806.5V566.5V759.5V784.5H2504.5V810.5V683.5H2505.5V640.5V821.5V752.5H2506.5V761.5V825.5H2508.5V771.5H2512.5V730.5H2514.5V814.5H2515.5V825.5H2517.5V770.5V825.5H2518.5V794.5H2519.5V749.5H2520.5V770.5H2522.5V825.5H2524.5V784.5H2525.5V797.5H2527.5V812.5H2528.5V779.5H2529.5V773.5H2531.5V770.5H2533.5V777.5H2536.5V740.5V727.5H2537.5V770.5H2538.5V746.5H2539.5V751.5H2541.5V773.5H2542.5V771.5H2544.5V825.5H2610.5V787.5H2615.5V825.5H2618.5V737.5V825.5H2623.5V770.5H2627.5V771.5V825.5H2633.5V774.5H2640.5V825.5H2655.5V791.5H2656.5V825.5H2667.5V800.5H2668.5V825.5H2673.5V803.5H2675.5V825.5H2676.5V777.5H2678.5V825.5H2679.5V789.5H2682.5V825.5H2707.5V775.5H2708.5V825.5H2725.5V808.5H2728.5V825.5H2729.5V790.5H2732.5V807.5H2734.5V805.5H2735.5V811.5H2736.5V792.5H2738.5V787.5H2739.5V791.5H2741.5V823.5H2742.5V791.5H2745.5V825.5H2747.5V807.5H2929.5V825.5H2938.5V1109.3H119.6Z" fill="#4b0082" fill-opacity="0.5" stroke="none"/>
<path d="M119.5 825.5H167.5V550.5V825.5H168.5V811.5H169.5V825.5H185.5V795.5H186.5V785.5H187.5V802.5H189.5V825.5H200.5V816.5H201.5V825.5H209.5V775.5H210.5V825.5H215.5V785.5V789.5H216.5V825.5H218.5V816.5V718.5H219.5V825.5H221.5V775.5V825.5H225.5V786.5V767.5V825.5H226.5V765.5V596.5V820.5H227.5V708.5V825.5V711.5H228.5V708.5V825.5V763.5V707.5H229.5V825.5V796.5V747.5H230.5V825.5V747.5V758.5V825.5H231.5V707.5H232.5V825.5V636.5V757.5V825.5H233.5V724.5V825.5V688.5H234.5V701.5V825.5H235.5V802.5V721.5V825.5H237.5V785.5H238.5V795.5H239.5V744.5H240.5V825.5H244.5V773.5V825.5H246.5V801.5H247.5V747.5V825.5H253.5V714.5V729.5H255.5V825.5H266.5V819.5H268.5V825.5H270.5V773.5H271.5V775.5V825.5H282.5V770.5V791.5H283.5V825.5H284.5V788.5V825.5V808.5V789.5H285.5V825.5V788.5H286.5V806.5V791.5V788.5H287.5V825.5V791.5H288.5V825.5V789.5V793.5V825.5H289.5V795.5V825.5H290.5V792.5V795.5V825.5H291.5V594.5V790.5V825.5V816.5H292.5V790.5V801.5V796.5H293.5V819.5V825.5H294.5V773.5H296.5V774.5H297.5V825.5H299.5V773.5V788.5V825.5H300.5V729.5V780.5V825.5V744.5V760.5H301.5V825.5V757.5H302.5V758.5V825.5V767.5H303.5V825.5V768.5H304.5V825.5V779.5V778.5H305.5V825.5V776.5H306.5V781.5V825.5V758.5H307.5V825.5V768.5V757.5V825.5H308.5V786.5V770.5V825.5H309.5V774.5V825.5V785.5H310.5V768.5V825.5V779.5H311.5V778.5V814.5H312.5V778.5V796.5V810.5V776.5H313.5V825.5V764.5H314.5V772.5V825.5V757.5V822.5H315.5V825.5V781.5V638.5V825.5H316.5V776.5H317.5V825.5V768.5H318.5V825.5V776.5V774.5V825.5H319.5V702.5H320.5V773.5H330.5V809.5V825.5H333.5V775.5H334.5V825.5H338.5V775.5H339.5V772.5H340.5V779.5H341.5V773.5H342.5V812.5H343.5V775.5H344.5V815.5H347.5V776.5H348.5V778.5H350.5V808.5H351.5V802.5H353.5V825.5H354.5V783.5V776.5V825.5H355.5V773.5V774.5V825.5H356.5V790.5V825.5H357.5V773.5V770.5V802.5V773.5H358.5V825.5V774.5V786.5H359.5V783.5V811.5V779.5H360.5V825.5V773.5H361.5V785.5V801.5V783.5H362.5V818.5V810.5V779.5H363.5V825.5V749.5V781.5V825.5H364.5V787.5V730.5H365.5V825.5V788.5V825.5H366.5V777.5V773.5V825.5H367.5V778.5V707.5V825.5V792.5H368.5V768.5V825.5V775.5H369.5V803.5V825.5V775.5H370.5V774.5V825.5V778.5H371.5V825.5H383.5V774.5H385.5V825.5H400.5V821.5H402.5V811.5V823.5H404.5V815.5H405.5V825.5H407.5V807.5H408.5V825.5H412.5V783.5H423.5V825.5H425.5V789.5H426.5V825.5H432.5V793.5H433.5V825.5H436.5V776.5H437.5V825.5H446.5V800.5V825.5H465.5V809.5H466.5V825.5H503.5V771.5H504.5V825.5H519.5V823.5H521.5V825.5H527.5V818.5H528.5V825.5H531.5V816.5H534.5V825.5H542.5V787.5H544.5V782.5H546.5V771.5H548.5V687.5H549.5V728.5H553.5V738.5H559.5V754.5H566.5V825.5H568.5V816.5H572.5V803.5H573.5V785.5H575.5V723.5H576.5V738.5H577.5V781.5H578.5V814.5H579.5V776.5H580.5V743.5H581.5V758.5H582.5V777.5H583.5V754.5H588.5V825.5H589.5V770.5H591.5V773.5H593.5V814.5H594.5V776.5H597.5V782.5H599.5V778.5H600.5V802.5H603.5V770.5H607.5V783.5H609.5V787.5H610.5V825.5H611.5V780.5H612.5V747.5H613.5V789.5H615.5V785.5H618.5V825.5H620.5V736.5H621.5V808.5H622.5V776.5H623.5V749.5H624.5V776.5H626.5V798.5H628.5V825.5H630.5V771.5H632.5V825.5V774.5H633.5V771.5H634.5V793.5H635.5V772.5V825.5H636.5V772.5H638.5V825.5H640.5V802.5H641.5V814.5H642.5V785.5H644.5V803.5H645.5V818.5H646.5V825.5H649.5V771.5H650.5V800.5H651.5V773.5H652.5V825.5H653.5V790.5H654.5V784.5H655.5V778.5H658.5V825.5H660.5V778.5H661.5V707.5H662.5V692.5H663.5V762.5H665.5V825.5H667.5V791.5V767.5H669.5V685.5H671.5V744.5H672.5V705.5H673.5V728.5H674.5V702.5H675.5V687.5H677.5V701.5H679.5V727.5H680.5V755.5H681.5V727.5H682.5V734.5H683.5V655.5H684.5V695.5H685.5V724.5H686.5V796.5H687.5V825.5H688.5V777.5H690.5V653.5H691.5V802.5H692.5V743.5H693.5V698.5H694.5V685.5H695.5V706.5H697.5V825.5H698.5V773.5H699.5V825.5H707.5V807.5H708.5V666.5H710.5V689.5H712.5V699.5V825.5H713.5V672.5H714.5V691.5H715.5V782.5H716.5V658.5H717.5V680.5H718.5V743.5H720.5V802.5H721.5V769.5H723.5V825.5H724.5V736.5H725.5V785.5H726.5V759.5H729.5V772.5H731.5V825.5H734.5V781.5H735.5V790.5H737.5V825.5H768.5V775.5H772.5V825.5H773.5V778.5H779.5V801.5H780.5V773.5H785.5V825.5H786.5V795.5H788.5V825.5H789.5V817.5H791.5V814.5H792.5V773.5H794.5V825.5H797.5V814.5H799.5V781.5H800.5V771.5H802.5V825.5H804.5V771.5H805.5V825.5H808.5V774.5H809.5V825.5H817.5V783.5H819.5V825.5H824.5V773.5H825.5V777.5H828.5V825.5H831.5V783.5H832.5V798.5H834.5V776.5H835.5V749.5H837.5V706.5H838.5V749.5H839.5V810.5H840.5V786.5H844.5V714.5H846.5V760.5H848.5V825.5H850.5V800.5H851.5V795.5H853.5V825.5H859.5V761.5H865.5V701.5H868.5V747.5H870.5V773.5H872.5V726.5H873.5V724.5H874.5V754.5H875.5V776.5H878.5V823.5H879.5V825.5H881.5V768.5H882.5V813.5H883.5V807.5H885.5V644.5H886.5V707.5H890.5V739.5H892.5V825.5H893.5V690.5H894.5V682.5H897.5V686.5V808.5H898.5V690.5H900.5V666.5H903.5V691.5H904.5V783.5H905.5V825.5H906.5V697.5V655.5H907.5V670.5H909.5V738.5H911.5V700.5H912.5V742.5H913.5V724.5H914.5V825.5H915.5V698.5H917.5V780.5H918.5V730.5H920.5V726.5H921.5V717.5H923.5V715.5H925.5V753.5H926.5V640.5V719.5H927.5V625.5H929.5V761.5H930.5V743.5H932.5V659.5H934.5V699.5H935.5V825.5V749.5H936.5V710.5H937.5V825.5H938.5V744.5H939.5V741.5H941.5V727.5H943.5V702.5H945.5V730.5H946.5V825.5H979.5V822.5H980.5V825.5H990.5V823.5H991.5V825.5H993.5V813.5V821.5H994.5V825.5H1003.5V792.5H1004.5V825.5H1025.5V816.5H1040.5V825.5H1043.5V798.5H1048.5V818.5H1049.5V825.5H1050.5V813.5H1052.5V776.5H1053.5V825.5H1056.5V813.5H1058.5V825.5H1073.5V788.5H1086.5V825.5H1096.5V772.5H1097.5V825.5H1098.5V772.5H1100.5V825.5V772.5H1104.5V825.5H1106.5V785.5H1108.5V787.5H1109.5V825.5H1110.5V785.5H1114.5V773.5H1115.5V822.5H1117.5V823.5H1118.5V825.5H1120.5V773.5H1121.5V779.5H1124.5V825.5H1132.5V806.5H1133.5V803.5H1135.5V825.5H1168.5V773.5H1172.5V825.5H1174.5V776.5H1179.5V771.5H1182.5V776.5V770.5H1184.5V825.5H1186.5V771.5H1189.5V825.5H1191.5V787.5H1192.5V825.5H1200.5V804.5H1204.5V825.5H1210.5V788.5V825.5H1212.5V786.5V825.5H1214.5V782.5V825.5H1216.5V784.5V825.5H1222.5V773.5H1225.5V770.5H1226.5V825.5H1228.5V811.5H1229.5V825.5H1231.5V814.5H1232.5V818.5H1235.5V777.5H1241.5V825.5H1245.5V774.5H1248.5V667.5V773.5H1256.5V821.5H1258.5V772.5V825.5H1260.5V772.5H1263.5V825.5H1265.5V779.5H1267.5V618.5V773.5H1268.5V770.5H1270.5V772.5H1272.5V783.5H1274.5V800.5H1275.5V825.5H1278.5V792.5H1279.5V772.5H1281.5V711.5V822.5H1288.5V740.5H1294.5V773.5H1300.5V743.5H1303.5V825.5H1304.5V769.5H1308.5V755.5H1312.5V812.5H1314.5V770.5H1316.5V825.5H1317.5V773.5H1318.5V702.5H1319.5V630.5H1321.5V771.5H1322.5V689.5H1323.5V823.5H1324.5V707.5H1325.5V673.5H1326.5V734.5H1327.5V825.5H1329.5V781.5H1330.5V774.5H1332.5V825.5H1336.5V773.5H1338.5V783.5H1341.5V825.5H1343.5V772.5H1345.5V825.5V773.5H1346.5V777.5H1347.5V771.5H1348.5V716.5H1349.5V738.5H1350.5V752.5V803.5H1352.5V739.5H1353.5V679.5H1354.5V760.5H1355.5V724.5H1356.5V794.5H1358.5V782.5H1359.5V807.5V825.5H1365.5V771.5H1366.5V825.5H1368.5V770.5H1369.5V771.5H1370.5V787.5H1371.5V773.5H1372.5V776.5H1375.5V819.5H1376.5V825.5H1377.5V774.5H1379.5V772.5H1382.5V775.5H1384.5V825.5H1394.5V795.5H1395.5V825.5H1398.5V796.5H1401.5V825.5H1412.5V787.5H1414.5V775.5H1416.5V803.5H1419.5V775.5H1422.5V802.5H1423.5V775.5H1424.5V627.5H1425.5V741.5H1426.5V785.5H1427.5V789.5H1429.5V776.5H1430.5V825.5H1432.5V815.5H1436.5V784.5H1439.5V825.5H1464.5V753.5H1467.5V825.5H1470.5V803.5H1472.5V772.5H1476.5V783.5H1477.5V795.5H1481.5V752.5H1484.5V729.5H1485.5V825.5H1486.5V773.5H1487.5V799.5H1489.5V825.5H1491.5V789.5H1492.5V753.5H1493.5V768.5H1494.5V817.5H1495.5V759.5H1497.5V811.5H1498.5V723.5H1500.5V747.5H1501.5V752.5H1503.5V730.5H1504.5V739.5H1505.5V771.5H1508.5V760.5H1510.5V825.5H1546.5V782.5H1547.5V825.5H1550.5V807.5H1551.5V798.5H1554.5V825.5H1558.5V803.5H1560.5V825.5H1562.5V759.5H1564.5V778.5H1567.5V784.5H1568.5V789.5H1571.5V777.5H1572.5V825.5H1587.5V786.5H1588.5V825.5H1591.5V770.5V825.5H1598.5V785.5H1602.5V825.5H1636.5V785.5H1637.5V776.5H1638.5V769.5H1639.5V807.5H1640.5V784.5H1643.5V825.5H1645.5V788.5H1646.5V779.5H1648.5V777.5V825.5H1650.5V816.5H1652.5V825.5H1662.5V775.5H1663.5V825.5H1664.5V775.5H1665.5V773.5H1666.5V785.5H1667.5V825.5H1677.5V753.5H1678.5V765.5H1679.5V825.5H1681.5V774.5H1683.5V825.5H1684.5V771.5H1687.5V690.5V771.5H1690.5V732.5H1691.5V774.5H1692.5V792.5H1693.5V825.5H1694.5V767.5H1695.5V796.5H1696.5V809.5H1698.5V825.5H1699.5V789.5H1700.5V754.5H1702.5V768.5H1703.5V825.5V768.5H1705.5V737.5V778.5H1707.5V825.5H1708.5V784.5H1711.5V783.5H1712.5V763.5H1713.5V742.5V779.5H1715.5V795.5H1716.5V762.5H1717.5V814.5H1718.5V773.5H1719.5V778.5H1722.5V771.5H1723.5V825.5H1724.5V755.5H1725.5V773.5H1726.5V767.5H1727.5V775.5H1728.5V807.5H1729.5V711.5V770.5H1730.5V776.5H1732.5V825.5H1738.5V773.5H1740.5V791.5H1742.5V779.5H1744.5V825.5H1756.5V803.5H1757.5V825.5H1775.5V773.5H1777.5V768.5H1780.5V816.5H1782.5V825.5H1799.5V781.5H1808.5V754.5H1811.5V739.5H1812.5V825.5H1816.5V811.5H1819.5V825.5H1820.5V805.5H1821.5V825.5H1822.5V807.5H1824.5V825.5H1828.5V800.5H1830.5V799.5H1832.5V796.5H1833.5V816.5H1835.5V825.5H1836.5V805.5H1837.5V825.5H1838.5V817.5H1841.5V809.5H1843.5V760.5H1846.5V825.5H1847.5V787.5H1849.5V811.5H1850.5V819.5H1852.5V825.5H1858.5V779.5H1859.5V825.5H1884.5V823.5H1885.5V825.5H1890.5V777.5H1897.5V825.5H1908.5V808.5H1910.5V805.5H1911.5V825.5H1912.5V796.5H1913.5V783.5H1914.5V825.5H1927.5V730.5V825.5H1929.5V789.5H1933.5V825.5H1934.5V779.5H1935.5V825.5H1947.5V813.5H1950.5V775.5H1951.5V771.5H1953.5V752.5H1954.5V821.5H1956.5V781.5H1957.5V825.5H1959.5V767.5V813.5H1960.5V825.5H1967.5V783.5H1970.5V777.5H1971.5V785.5H1976.5V825.5H1991.5V807.5H1993.5V756.5H1998.5V798.5H2001.5V825.5H2004.5V736.5H2006.5V825.5H2009.5V771.5H2010.5V825.5H2012.5V778.5H2014.5V787.5H2018.5V802.5H2020.5V825.5H2035.5V773.5H2038.5V825.5H2041.5V816.5H2046.5V825.5H2048.5V812.5H2049.5V825.5H2052.5V798.5H2053.5V825.5H2059.5V789.5V825.5H2062.5V790.5H2064.5V825.5H2065.5V819.5H2068.5V774.5H2074.5V825.5H2077.5V774.5H2082.5V813.5H2083.5V817.5H2084.5V825.5H2088.5V784.5H2090.5V825.5H2091.5V821.5H2092.5V825.5H2097.5V794.5V670.5H2098.5V795.5H2100.5V825.5H2103.5V770.5H2104.5V825.5H2106.5V776.5V702.5H2107.5V793.5H2108.5V769.5H2109.5V809.5V788.5V808.5H2110.5V825.5V791.5H2111.5V825.5V802.5V790.5H2112.5V825.5V785.5V763.5H2113.5V825.5V787.5V825.5V794.5H2114.5V791.5V825.5V747.5H2115.5V772.5V825.5V786.5H2116.5V768.5V825.5V722.5H2117.5V766.5V825.5V604.5H2118.5V768.5V798.5V825.5H2119.5V779.5V825.5H2126.5V808.5V825.5H2129.5V781.5H2131.5V768.5H2132.5V743.5H2133.5V825.5H2135.5V773.5H2136.5V825.5H2141.5V803.5H2142.5V823.5H2144.5V825.5H2146.5V773.5H2148.5V825.5H2152.5V772.5H2154.5V825.5H2158.5V816.5H2160.5V792.5H2161.5V771.5V784.5H2164.5V783.5H2165.5V794.5H2166.5V813.5H2167.5V825.5H2178.5V787.5V823.5H2179.5V825.5H2192.5V803.5H2194.5V825.5H2205.5V786.5H2206.5V825.5H2207.5V796.5H2210.5V825.5H2215.5V781.5H2217.5V825.5H2227.5V778.5V825.5H2229.5V742.5V825.5H2230.5V803.5H2234.5V822.5H2236.5V794.5H2237.5V782.5H2239.5V825.5H2242.5V774.5V825.5H2249.5V773.5V825.5H2262.5V795.5V825.5H2264.5V789.5V825.5H2269.5V778.5V763.5V778.5H2270.5V772.5V825.5H2271.5V702.5V748.5V825.5H2272.5V773.5V791.5V825.5H2274.5V770.5V783.5H2275.5V825.5V775.5H2276.5V751.5V825.5V777.5H2277.5V825.5V771.5V773.5H2278.5V825.5V774.5H2279.5V825.5V793.5V771.5H2280.5V825.5H2281.5V787.5V825.5H2282.5V801.5H2283.5V825.5H2287.5V776.5H2289.5V730.5V776.5H2290.5V795.5H2291.5V825.5H2296.5V810.5V825.5H2297.5V784.5V791.5H2298.5V825.5H2299.5V793.5V814.5V796.5V791.5H2300.5V825.5V792.5H2301.5V825.5V792.5H2302.5V825.5V791.5V792.5H2303.5V825.5V793.5V774.5V825.5H2304.5V785.5V825.5H2305.5V793.5H2306.5V692.5V816.5V825.5H2313.5V795.5V825.5H2323.5V781.5V791.5V825.5H2324.5V789.5V825.5V777.5H2325.5V779.5V825.5V780.5H2326.5V825.5V779.5H2327.5V776.5V825.5V792.5V788.5H2328.5V825.5V789.5H2329.5V825.5V778.5V803.5H2330.5V825.5V787.5V778.5H2331.5V825.5V790.5V825.5H2332.5V755.5V791.5V825.5V793.5H2333.5V777.5H2334.5V825.5V748.5V786.5V811.5V825.5H2335.5V778.5V825.5H2336.5V787.5V785.5V825.5V789.5H2337.5V825.5H2338.5V778.5V825.5H2339.5V668.5H2340.5V783.5V782.5V819.5H2341.5V782.5V825.5V773.5H2342.5V779.5V804.5H2343.5V787.5V783.5V825.5H2344.5V779.5V787.5V825.5H2345.5V777.5V825.5H2346.5V777.5V825.5H2347.5V782.5V780.5V825.5V755.5H2348.5V786.5V825.5V794.5H2349.5V786.5V825.5H2355.5V772.5V773.5V825.5H2356.5V781.5V825.5V722.5H2357.5V780.5V773.5V799.5H2358.5V779.5V825.5H2368.5V779.5V759.5H2369.5V825.5V749.5H2370.5V714.5V825.5V784.5H2371.5V697.5V825.5V747.5V787.5H2372.5V825.5V775.5V825.5H2373.5V756.5V767.5V825.5V777.5H2374.5V764.5V825.5H2375.5V744.5V818.5V784.5V763.5H2376.5V825.5V753.5H2377.5V778.5V825.5V760.5H2378.5V812.5V825.5H2380.5V778.5V777.5H2381.5V825.5V783.5H2382.5V798.5V771.5V773.5H2383.5V825.5V776.5V822.5H2384.5V781.5H2385.5V825.5V781.5H2386.5V825.5V779.5V793.5V669.5H2387.5V773.5V774.5V825.5H2388.5V782.5V825.5V776.5H2389.5V825.5H2390.5V780.5V825.5H2391.5V776.5V825.5H2396.5V801.5H2397.5V825.5H2399.5V788.5V790.5V825.5H2400.5V790.5V774.5V821.5V779.5H2401.5V825.5V778.5H2402.5V776.5V820.5V786.5H2403.5V825.5H2405.5V783.5H2406.5V825.5H2411.5V785.5H2412.5V825.5H2429.5V791.5H2430.5V825.5H2433.5V624.5H2434.5V773.5V774.5V825.5H2435.5V780.5V761.5V825.5V771.5H2436.5V825.5V769.5H2437.5V696.5V825.5H2438.5V766.5V764.5H2439.5V825.5V761.5H2440.5V825.5H2441.5V789.5V821.5V736.5H2442.5V757.5V825.5V753.5H2443.5V785.5V825.5V779.5H2444.5V816.5V825.5H2445.5V823.5H2446.5V825.5H2447.5V774.5V789.5V825.5H2448.5V770.5V722.5V825.5V792.5H2449.5V825.5V811.5H2450.5V825.5H2453.5V823.5H2455.5V825.5H2463.5V808.5V825.5H2465.5V771.5H2466.5V796.5H2467.5V806.5H2469.5V825.5H2470.5V776.5V787.5H2471.5V825.5V790.5V791.5H2472.5V825.5H2473.5V793.5V825.5V779.5V786.5H2474.5V825.5V785.5H2475.5V792.5V825.5H2476.5V822.5H2477.5V825.5H2478.5V805.5V825.5H2483.5V744.5V695.5V825.5H2484.5V688.5V701.5H2485.5V733.5V687.5V783.5H2486.5V748.5V680.5H2487.5V770.5V785.5H2488.5V724.5V740.5V759.5H2489.5V755.5V734.5H2490.5V689.5V665.5H2491.5V825.5V723.5V655.5H2492.5V825.5V689.5H2493.5V707.5V825.5V691.5H2494.5V812.5H2495.5V691.5V635.5V801.5H2496.5V693.5V762.5H2497.5V819.5V713.5H2498.5V682.5V825.5V752.5H2499.5V727.5V767.5H2500.5V761.5V762.5H2501.5V700.5V732.5H2502.5V825.5V817.5V717.5H2503.5V806.5V566.5V759.5V784.5H2504.5V810.5V683.5H2505.5V640.5V821.5V752.5H2506.5V761.5V825.5H2508.5V771.5H2512.5V730.5H2514.5V814.5H2515.5V825.5H2517.5V770.5V825.5H2518.5V794.5H2519.5V749.5H2520.5V770.5H2522.5V825.5H2524.5V784.5H2525.5V797.5H2527.5V812.5H2528.5V779.5H2529.5V773.5H2531.5V770.5H2533.5V777.5H2536.5V740.5V727.5H2537.5V770.5H2538.5V746.5H2539.5V751.5H2541.5V773.5H2542.5V771.5H2544.5V825.5H2610.5V787.5H2615.5V825.5H2618.5V737.5V825.5H2623.5V770.5H2627.5V771.5V825.5H2633.5V774.5H2640.5V825.5H2655.5V791.5H2656.5V825.5H2667.5V800.5H2668.5V825.5H2673.5V803.5H2675.5V825.5H2676.5V777.5H2678.5V825.5H2679.5V789.5H2682.5V825.5H2707.5V775.5H2708.5V825.5H2725.5V808.5H2728.5V825.5H2729.5V790.5H2732.5V807.5H2734.5V805.5H2735.5V811.5H2736.5V792.5H2738.5V787.5H2739.5V791.5H2741.5V823.5H2742.5V791.5H2745.5V825.5H2747.5V807.5H2929.5V825.5H2938.5" fill="none" stroke="#4b0082" stroke-width="1"/>
<path d="M120 1107H160V1109H120ZM164 1107H294V1109H164ZM296 1107H356V1109H296ZM360 1107H450V1109H360ZM458 1107H588V1109H458ZM589 1107H719V1109H589ZM720 1107H810V1109H720ZM812 1107H942V1109H812ZM944 1107H984V1109H944ZM992 1107H1082V1109H992ZM1086 1107H1216V1109H1086ZM1219 1107H1309V1109H1219ZM1317 1107H1357V1109H1317ZM1359 1107H1539V1109H1359ZM1541 1107H1671V1109H1541ZM1674 1107H1854V1109H1674ZM1855 1107H2035V1109H1855ZM2036 1107H2076V1109H2036ZM2080 1107H2100V1109H2080ZM2102 1107H2122V1109H2102ZM2124 1107H2214V1109H2124ZM2218 1107H2398V1109H2218ZM2401 1107H2581V1109H2401ZM2584 1107H2674V1109H2584ZM2682 1107H2812V1109H2682ZM2815 1107H2855V1109H2815ZM2857 1107H2877V1109H2857ZM2878 1107H2918V1109H2878ZM2921 1107H2938V1109H2921Z" fill="#000" fill-opacity="0.5"/>
<path d="M120 1107.5H160M164 1107.5H294M296 1107.5H356M360 1107.5H450M458 1107.5H588M589 1107.5H719M720 1107.5H810M812 1107.5H942M944 1107.5H984M992 1107.5H1082M1086 1107.5H1216M1219 1107.5H1309M1317 1107.5H1357M1359 1107.5H1539M1541 1107.5H1671M1674 1107.5H1854M1855 1107.5H2035M2036 1107.5H2076M2080 1107.5H2100M2102 1107.5H2122M2124 1107.5H2214M2218 1107.5H2398M2401 1107.5H2581M2584 1107.5H2674M2682 1107.5H2812M2815 1107.5H2855M2857 1107.5H2877M2878 1107.5H2918M2921 1107.5H2938" stroke="#000" stroke-width="1" fill="none"/>
<path d="M119.5 162V1110M119 1109.5H2940" stroke="#000" stroke-width="1.2" fill="none"/>
<path d="M114 162.5H119M114 255.5H119M114 326.5H119M114 398.5H119M114 450.5H119M114 492.5H119M114 561.5H119M114 628.5H119M114 693.5H119M114 753.5H119M114 826.5H119M114 875.5H119M114 918.5H119M114 968.5H119M114 998.5H119M114 1050.5H119M114 1089.5H119M120.5 1110V1116M258.5 1110V1116M396.5 1110V1116M534.5 1110V1116M672.5 1110V1116M810.5 1110V1116M948.5 1110V1116M1086.5 1110V1116M1224.5 1110V1116M1362.5 1110V1116M1501.5 1110V1116M1639.5 1110V1116M1777.5 1110V1116M1915.5 1110V1116M2053.5 1110V1116M2191.5 1110V1116M2329.5 1110V1116M2467.5 1110V1116M2605.5 1110V1116M2744.5 1110V1116M2882.5 1110V1116" stroke="#000" stroke-width="1" fill="none"/>
<text x="109.8" y="167.3" font-size="17.2" text-anchor="end">10000</text>
<text x="109.8" y="260.3" font-size="17.2" text-anchor="end">4000</text>
<text x="109.8" y="331.3" font-size="17.2" text-anchor="end">2000</text>
<text x="109.8" y="403.3" font-size="17.2" text-anchor="end">1000</text>
<text x="109.8" y="455.3" font-size="17.2" text-anchor="end">600</text>
<text x="109.8" y="497.3" font-size="17.2" text-anchor="end">400</text>
<text x="109.8" y="566.3" font-size="17.2" text-anchor="end">200</text>
<text x="109.8" y="633.3" font-size="17.2" text-anchor="end">100</text>
<text x="109.8" y="698.3" font-size="17.2" text-anchor="end">50</text>
<text x="109.8" y="758.3" font-size="17.2" text-anchor="end">25</text>
<text x="109.8" y="831.3" font-size="17.2" text-anchor="end">10</text>
<text x="109.8" y="880.3" font-size="17.2" text-anchor="end">5</text>
<text x="109.8" y="923.3" font-size="17.2" text-anchor="end">2.5</text>
<text x="109.8" y="973.3" font-size="17.2" text-anchor="end">1</text>
<text x="109.8" y="1003.3" font-size="17.2" text-anchor="end">0.5</text>
<text x="109.8" y="1055.3" font-size="17.2" text-anchor="end">0.1</text>
<text x="109.8" y="1094.3" font-size="17.2" text-anchor="end">0.01</text>
<text x="120.7" y="1133.5" font-size="17.3" text-anchor="middle">0</text>
<text x="258.7" y="1133.5" font-size="17.3" text-anchor="middle">10000</text>
<text x="396.7" y="1133.5" font-size="17.3" text-anchor="middle">20000</text>
<text x="534.7" y="1133.5" font-size="17.3" text-anchor="middle">30000</text>
<text x="672.7" y="1133.5" font-size="17.3" text-anchor="middle">40000</text>
<text x="810.7" y="1133.5" font-size="17.3" text-anchor="middle">50000</text>
<text x="948.7" y="1133.5" font-size="17.3" text-anchor="middle">60000</text>
<text x="1086.7" y="1133.5" font-size="17.3" text-anchor="middle">70000</text>
<text x="1224.7" y="1133.5" font-size="17.3" text-anchor="middle">80000</text>
<text x="1362.7" y="1133.5" font-size="17.3" text-anchor="middle">90000</text>
<text x="1501.7" y="1133.5" font-size="17.3" text-anchor="middle">100000</text>
<text x="1639.7" y="1133.5" font-size="17.3" text-anchor="middle">110000</text>
<text x="1777.7" y="1133.5" font-size="17.3" text-anchor="middle">120000</text>
<text x="1915.7" y="1133.5" font-size="17.3" text-anchor="middle">130000</text>
<text x="2053.7" y="1133.5" font-size="17.3" text-anchor="middle">140000</text>
<text x="2191.7" y="1133.5" font-size="17.3" text-anchor="middle">150000</text>
<text x="2329.7" y="1133.5" font-size="17.3" text-anchor="middle">160000</text>
<text x="2467.7" y="1133.5" font-size="17.3" text-anchor="middle">170000</text>
<text x="2605.7" y="1133.5" font-size="17.3" text-anchor="middle">180000</text>
<text x="2744.7" y="1133.5" font-size="17.3" text-anchor="middle">190000</text>
<text x="2882.7" y="1133.5" font-size="17.3" text-anchor="middle">200000</text>
<text x="1530.7" y="1165.8" font-size="18.5" text-anchor="middle" textLength="56.8" lengthAdjust="spacing">frames</text>
<text transform="translate(74.6,637.1) rotate(-90)" font-size="20.4" text-anchor="middle" textLength="95.5" lengthAdjust="spacingAndGlyphs">nits (cd/m²)</text>
<text x="1500.1" y="59.7" font-size="32" text-anchor="middle" textLength="356" lengthAdjust="spacing">Dolby Vision Level 1 Plot</text>
<text x="120.2" y="71.2" font-size="19.6" textLength="552.5" lengthAdjust="spacing" xml:space="preserve">Star Wars Episode IX The Rise of Skywalker (2019) [UHD DR]</text>
<text x="120.2" y="96.4" font-size="18.8" textLength="581" lengthAdjust="spacing" xml:space="preserve">Frames: 204114. Profile: 8. Scenes: 4003. DM version: 2 (CM v4.0).</text>
<text x="120.2" y="121.0" font-size="18.8" textLength="398" lengthAdjust="spacing" xml:space="preserve">RPU mastering display: 0.0001/1000 nits  (P3)</text>
<text x="120.2" y="146.5" font-size="18.8" textLength="755" lengthAdjust="spacing" xml:space="preserve">L6 metadata: Mastering display: 0.0001/1000 nits. MaxCLL: 700 nits, MaxFALL: 220 nits</text>
<text x="2623" y="87.8" font-size="20.3" textLength="253.5" lengthAdjust="spacing">L5: R=0, L=0, T=276, B=276</text>
<text x="2623" y="117.4" font-size="20.3" textLength="152.5" lengthAdjust="spacing">L8 trims: 100 nits</text>
<text x="2625" y="146.5" font-size="19.2" textLength="314" lengthAdjust="spacing">L2 trims: 100 nits, 600 nits, 1000 nits</text>
<rect x="125.5" y="1006.5" width="477" height="99" fill="#fff" stroke="#000" stroke-width="1"/>
<path d="M135 1025.5H155" stroke="#4169e1" stroke-width="3"/>
<text x="165.3" y="1030.4" font-size="19.1" textLength="426" lengthAdjust="spacing">Maximum (MaxCLL: 700.34 nits, avg: 350.19 nits)</text>
<path d="M135 1055.5H155" stroke="#4b0082" stroke-width="3"/>
<text x="165.3" y="1060.4" font-size="19.1" textLength="413.5" lengthAdjust="spacing">Average (MaxFALL: 220.82 nits, avg: 13.00 nits)</text>
<path d="M135 1085.3H155" stroke="#000" stroke-width="3"/>
<text x="165.3" y="1090.4" font-size="19.1" textLength="259" lengthAdjust="spacing">Minimum (max: 0.000262 nits)</text>
</svg></body></html>
